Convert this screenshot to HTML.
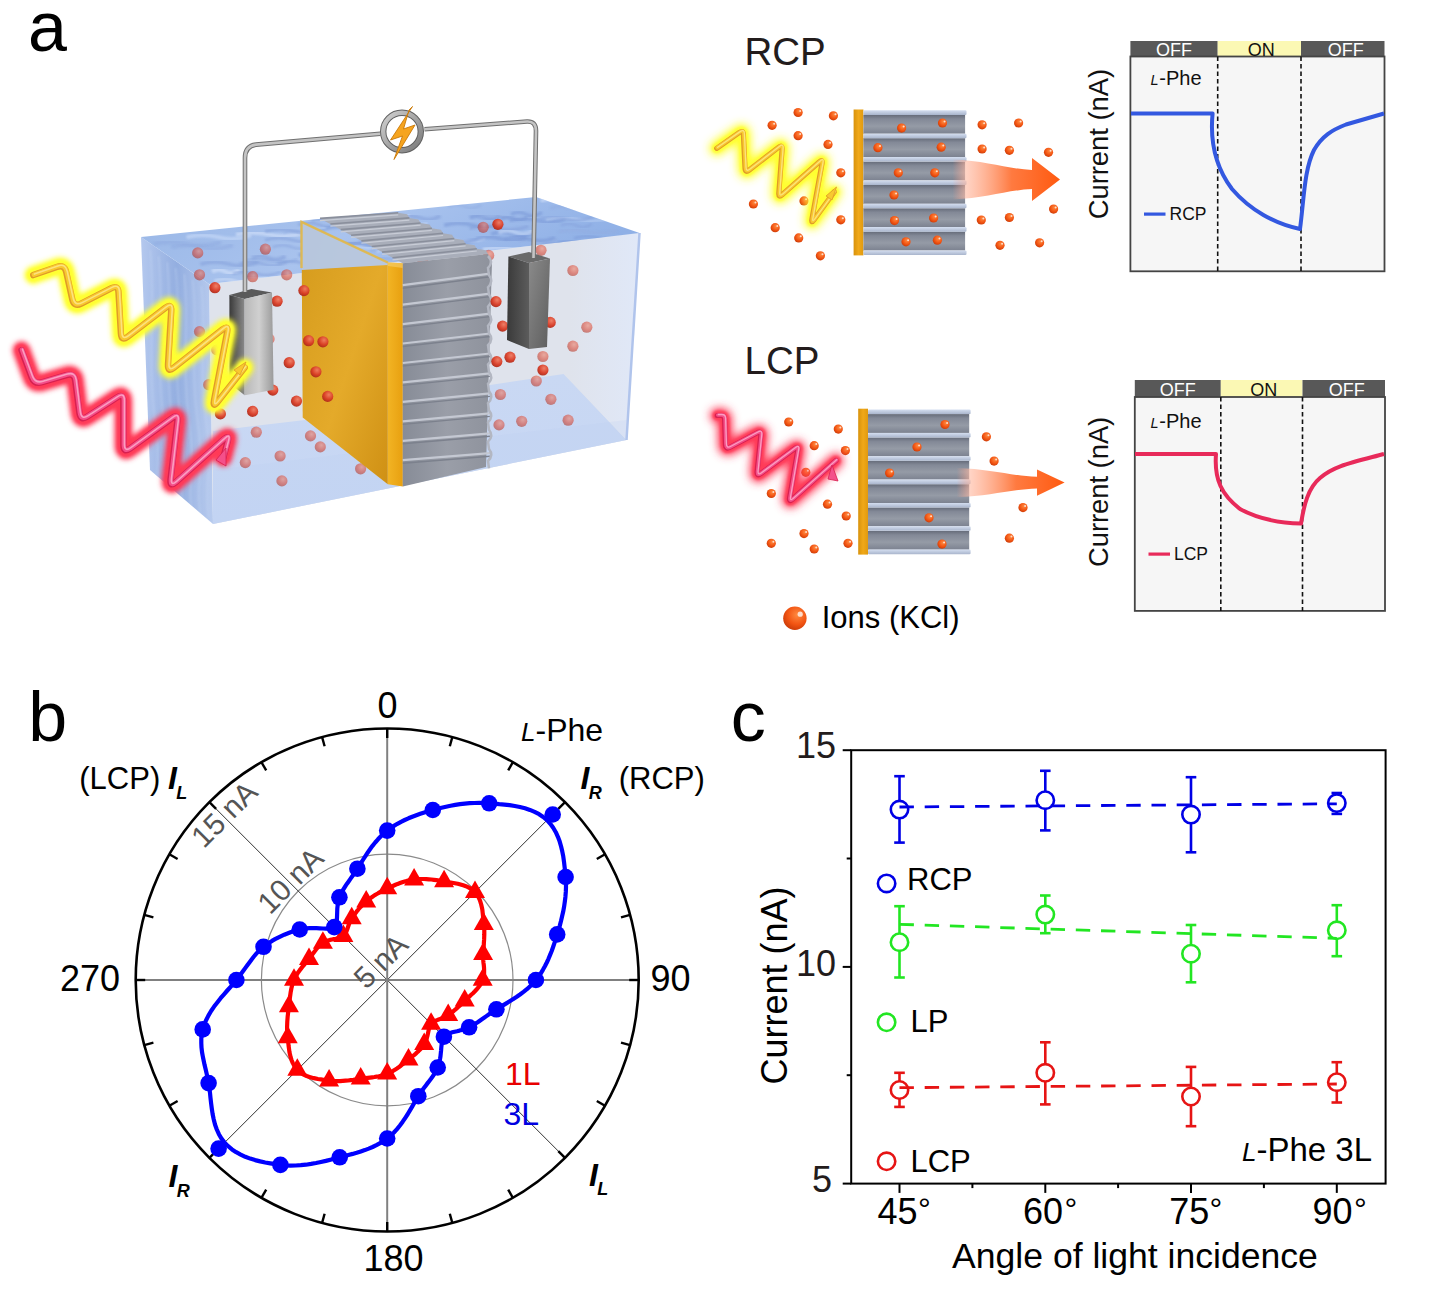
<!DOCTYPE html>
<html><head><meta charset="utf-8"><style>
html,body{margin:0;padding:0;background:#fff;}
svg{display:block;}
text{font-family:"Liberation Sans",sans-serif;}
</style></head><body>
<svg width="1448" height="1304" viewBox="0 0 1448 1304">
<defs>
<linearGradient id="goldBar" x1="0" x2="1" y1="0" y2="0"><stop offset="0" stop-color="#d8920c"/><stop offset="0.5" stop-color="#f0a818"/><stop offset="1" stop-color="#e09a10"/></linearGradient>
<linearGradient id="bandG" x1="0" x2="0" y1="0" y2="1"><stop offset="0" stop-color="#666c7a"/><stop offset="0.22" stop-color="#838997"/><stop offset="0.6" stop-color="#959ba6"/><stop offset="1" stop-color="#7c8290"/></linearGradient>
<linearGradient id="stripeG" x1="0" x2="0" y1="0" y2="1"><stop offset="0" stop-color="#d4def0"/><stop offset="1" stop-color="#a9b5cc"/></linearGradient>
<radialGradient id="ionG" cx="0.6" cy="0.35" r="0.7"><stop offset="0" stop-color="#ff8a40"/><stop offset="0.6" stop-color="#f25412"/><stop offset="1" stop-color="#c83a08"/></radialGradient>
<radialGradient id="tionG" cx="0.6" cy="0.35" r="0.7"><stop offset="0" stop-color="#f07a60"/><stop offset="0.6" stop-color="#d83a24"/><stop offset="1" stop-color="#a82818"/></radialGradient>
<linearGradient id="arrG" x1="0" x2="1" y1="0" y2="0"><stop offset="0" stop-color="#ff9a80" stop-opacity="0"/><stop offset="0.12" stop-color="#ffb8a0" stop-opacity="0.6"/><stop offset="0.55" stop-color="#ff7a40"/><stop offset="1" stop-color="#ff5a10"/></linearGradient>
<filter id="blur5" x="-30%" y="-30%" width="160%" height="160%"><feGaussianBlur stdDeviation="4"/></filter>
<filter id="blur3" x="-30%" y="-30%" width="160%" height="160%"><feGaussianBlur stdDeviation="2.5"/></filter>
<filter id="blur1" x="-10%" y="-10%" width="120%" height="120%"><feGaussianBlur stdDeviation="1"/></filter>
<linearGradient id="tankFront" x1="0" x2="0" y1="0" y2="1"><stop offset="0" stop-color="#e6e9f0"/><stop offset="1" stop-color="#dfe4ee"/></linearGradient>
<linearGradient id="rwG" x1="0" x2="1" y1="0" y2="0"><stop offset="0" stop-color="#dfe3ec"/><stop offset="0.3" stop-color="#dfe3ec"/><stop offset="1" stop-color="#e0e8f8"/></linearGradient>
<linearGradient id="floorG" x1="0" x2="0" y1="0" y2="1"><stop offset="0" stop-color="#c9d8f3"/><stop offset="1" stop-color="#c6d6f4"/></linearGradient>
<linearGradient id="leftFace" x1="0" x2="1" y1="0" y2="0"><stop offset="0" stop-color="#b4c8ee"/><stop offset="0.5" stop-color="#93aee0"/><stop offset="1" stop-color="#b8cbee"/></linearGradient>
<clipPath id="lfClip"><polygon points="141,237 209,284 213,524 150,470"/></clipPath>
<linearGradient id="topFace" x1="0" x2="1" y1="0" y2="0.3"><stop offset="0" stop-color="#98b6e6"/><stop offset="0.5" stop-color="#a9c3ee"/><stop offset="1" stop-color="#8fb0e6"/></linearGradient>
<linearGradient id="plateG" x1="0" x2="1" y1="0" y2="1"><stop offset="0" stop-color="#d49a1c"/><stop offset="0.55" stop-color="#e4aa2a"/><stop offset="1" stop-color="#cf9014"/></linearGradient>
<linearGradient id="plateEdge" x1="0" x2="1" y1="0" y2="0"><stop offset="0" stop-color="#f2b424"/><stop offset="1" stop-color="#e8a010"/></linearGradient>
<linearGradient id="stackFront" x1="0" x2="1" y1="0" y2="0"><stop offset="0" stop-color="#878c97"/><stop offset="0.5" stop-color="#9a9ea8"/><stop offset="1" stop-color="#8e929c"/></linearGradient>
<linearGradient id="elecL" x1="0" x2="1" y1="0" y2="0"><stop offset="0" stop-color="#3a3a3a"/><stop offset="1" stop-color="#8a8a8a"/></linearGradient>
<linearGradient id="elecF" x1="0" x2="1" y1="0" y2="0"><stop offset="0" stop-color="#b8b8b8"/><stop offset="0.5" stop-color="#d0d0d0"/><stop offset="1" stop-color="#9a9a9a"/></linearGradient>
<linearGradient id="elecRF" x1="0" x2="1" y1="0" y2="0"><stop offset="0" stop-color="#3a3a3a"/><stop offset="1" stop-color="#5c5c5c"/></linearGradient>
<linearGradient id="elecRF2" x1="0" x2="1" y1="0" y2="1"><stop offset="0" stop-color="#8a8a8a"/><stop offset="1" stop-color="#5e5e5e"/></linearGradient>
<linearGradient id="ringG" x1="0" x2="1" y1="0" y2="1"><stop offset="0" stop-color="#d0d0d0"/><stop offset="1" stop-color="#7a7a7a"/></linearGradient>
</defs>
<rect width="1448" height="1304" fill="#fff"/>
<text x="28" y="51.3" font-size="70" font-family="Liberation Sans, sans-serif" fill="#000">a</text>
<text x="28.2" y="740.8" font-size="70" font-family="Liberation Sans, sans-serif" fill="#000">b</text>
<text x="730.8" y="741.4" font-size="70" font-family="Liberation Sans, sans-serif" fill="#000">c</text>
<circle cx="387.2" cy="980.0" r="125.8" fill="none" stroke="#8a8a8a" stroke-width="1.2"/>
<line x1="565.0" y1="802.2" x2="209.4" y2="1157.8" stroke="#333" stroke-width="1"/>
<line x1="565.0" y1="1157.8" x2="209.4" y2="802.2" stroke="#333" stroke-width="1"/>
<line x1="135.7" y1="980.0" x2="638.7" y2="980.0" stroke="#808080" stroke-width="2"/>
<line x1="387.2" y1="728.5" x2="387.2" y2="1231.5" stroke="#808080" stroke-width="2"/>
<circle cx="387.2" cy="980.0" r="251.5" fill="none" stroke="#000" stroke-width="2.6"/>
<line x1="387.2" y1="728.5" x2="387.2" y2="738.0" stroke="#000" stroke-width="2.4"/>
<line x1="452.3" y1="737.1" x2="449.8" y2="746.2" stroke="#000" stroke-width="2.4"/>
<line x1="512.9" y1="762.2" x2="508.2" y2="770.4" stroke="#000" stroke-width="2.4"/>
<line x1="565.0" y1="802.2" x2="558.3" y2="808.9" stroke="#000" stroke-width="2.4"/>
<line x1="605.0" y1="854.2" x2="596.8" y2="859.0" stroke="#000" stroke-width="2.4"/>
<line x1="630.1" y1="914.9" x2="621.0" y2="917.4" stroke="#000" stroke-width="2.4"/>
<line x1="638.7" y1="980.0" x2="629.2" y2="980.0" stroke="#000" stroke-width="2.4"/>
<line x1="630.1" y1="1045.1" x2="621.0" y2="1042.6" stroke="#000" stroke-width="2.4"/>
<line x1="605.0" y1="1105.8" x2="596.8" y2="1101.0" stroke="#000" stroke-width="2.4"/>
<line x1="565.0" y1="1157.8" x2="558.3" y2="1151.1" stroke="#000" stroke-width="2.4"/>
<line x1="512.9" y1="1197.8" x2="508.2" y2="1189.6" stroke="#000" stroke-width="2.4"/>
<line x1="452.3" y1="1222.9" x2="449.8" y2="1213.8" stroke="#000" stroke-width="2.4"/>
<line x1="387.2" y1="1231.5" x2="387.2" y2="1222.0" stroke="#000" stroke-width="2.4"/>
<line x1="322.1" y1="1222.9" x2="324.6" y2="1213.8" stroke="#000" stroke-width="2.4"/>
<line x1="261.4" y1="1197.8" x2="266.2" y2="1189.6" stroke="#000" stroke-width="2.4"/>
<line x1="209.4" y1="1157.8" x2="216.1" y2="1151.1" stroke="#000" stroke-width="2.4"/>
<line x1="169.4" y1="1105.8" x2="177.6" y2="1101.0" stroke="#000" stroke-width="2.4"/>
<line x1="144.3" y1="1045.1" x2="153.4" y2="1042.6" stroke="#000" stroke-width="2.4"/>
<line x1="135.7" y1="980.0" x2="145.2" y2="980.0" stroke="#000" stroke-width="2.4"/>
<line x1="144.3" y1="914.9" x2="153.4" y2="917.4" stroke="#000" stroke-width="2.4"/>
<line x1="169.4" y1="854.2" x2="177.6" y2="859.0" stroke="#000" stroke-width="2.4"/>
<line x1="209.4" y1="802.2" x2="216.1" y2="808.9" stroke="#000" stroke-width="2.4"/>
<line x1="261.4" y1="762.2" x2="266.2" y2="770.4" stroke="#000" stroke-width="2.4"/>
<line x1="322.1" y1="737.1" x2="324.6" y2="746.2" stroke="#000" stroke-width="2.4"/>
<path d="M387.2,888.5 L389.2,887.5 L391.3,886.6 L393.4,885.7 L395.5,884.8 L397.7,883.9 L400.0,883.1 L402.2,882.3 L404.6,881.6 L406.9,880.9 L409.3,880.4 L411.7,879.9 L414.1,879.5 L416.6,879.3 L419.0,879.1 L421.5,879.0 L423.9,879.0 L426.4,879.1 L428.9,879.3 L431.4,879.5 L433.9,879.8 L436.5,880.1 L439.0,880.5 L441.5,881.0 L444.1,881.4 L446.7,881.9 L449.4,882.4 L452.1,882.8 L454.9,883.3 L457.7,883.8 L460.5,884.5 L463.2,885.3 L465.9,886.2 L468.4,887.4 L470.8,888.7 L473.0,890.3 L475.0,892.2 L476.7,894.3 L478.2,896.6 L479.4,899.1 L480.4,901.8 L481.2,904.5 L481.9,907.4 L482.4,910.2 L482.7,913.1 L483.0,916.0 L483.3,918.8 L483.6,921.5 L483.8,924.2 L484.1,926.8 L484.3,929.5 L484.3,932.1 L484.3,934.7 L484.2,937.3 L484.1,939.9 L483.9,942.4 L483.8,944.9 L483.6,947.3 L483.4,949.7 L483.2,952.0 L483.1,954.3 L483.1,956.5 L483.2,958.7 L483.3,960.9 L483.5,963.0 L483.8,965.1 L484.0,967.3 L484.1,969.4 L484.1,971.5 L484.1,973.7 L483.8,975.8 L483.4,977.9 L482.7,980.0 L481.8,982.1 L480.7,984.1 L479.4,986.0 L477.9,987.9 L476.3,989.8 L474.7,991.5 L473.0,993.2 L471.2,994.8 L469.5,996.4 L467.8,997.9 L466.2,999.3 L464.7,1000.8 L463.2,1002.2 L461.8,1003.5 L460.4,1004.9 L459.1,1006.2 L457.7,1007.4 L456.4,1008.6 L455.0,1009.8 L453.7,1011.0 L452.3,1012.1 L451.0,1013.2 L449.6,1014.2 L448.2,1015.2 L446.7,1016.1 L445.1,1016.9 L443.5,1017.6 L441.9,1018.3 L440.3,1018.9 L438.7,1019.5 L437.1,1020.1 L435.7,1020.7 L434.3,1021.3 L433.1,1022.1 L432.0,1022.9 L431.1,1023.9 L430.4,1025.1 L429.7,1026.4 L429.2,1027.9 L428.8,1029.6 L428.4,1031.4 L428.0,1033.2 L427.6,1035.1 L427.1,1037.0 L426.6,1038.9 L425.9,1040.8 L425.2,1042.5 L424.2,1044.2 L423.2,1045.7 L422.1,1047.1 L421.0,1048.5 L419.8,1049.8 L418.5,1051.1 L417.2,1052.3 L415.8,1053.6 L414.4,1054.8 L413.0,1055.9 L411.5,1057.1 L410.0,1058.4 L408.5,1059.6 L407.0,1060.9 L405.4,1062.1 L403.8,1063.4 L402.1,1064.7 L400.4,1066.0 L398.7,1067.3 L396.9,1068.5 L395.0,1069.7 L393.2,1070.8 L391.2,1071.9 L389.2,1072.8 L387.2,1073.7 L385.1,1074.5 L383.0,1075.1 L380.9,1075.7 L378.8,1076.2 L376.6,1076.6 L374.4,1077.0 L372.2,1077.3 L370.0,1077.6 L367.7,1077.9 L365.4,1078.2 L363.1,1078.5 L360.7,1078.8 L358.3,1079.2 L355.8,1079.5 L353.3,1079.9 L350.7,1080.2 L348.1,1080.5 L345.5,1080.7 L342.8,1080.9 L340.1,1081.1 L337.3,1081.1 L334.6,1081.0 L331.9,1080.9 L329.1,1080.5 L326.4,1080.2 L323.6,1079.8 L320.8,1079.4 L317.9,1079.0 L315.0,1078.4 L312.2,1077.8 L309.4,1076.9 L306.7,1076.0 L304.1,1074.8 L301.6,1073.4 L299.4,1071.7 L297.3,1069.9 L295.5,1067.8 L294.0,1065.4 L292.7,1062.9 L291.6,1060.2 L290.7,1057.4 L290.0,1054.6 L289.4,1051.7 L289.0,1048.8 L288.6,1045.9 L288.3,1043.0 L288.0,1040.2 L287.7,1037.5 L287.4,1034.7 L287.2,1032.0 L287.1,1029.4 L287.1,1026.7 L287.2,1024.0 L287.3,1021.4 L287.5,1018.8 L287.7,1016.2 L288.0,1013.7 L288.3,1011.2 L288.6,1008.7 L288.9,1006.3 L289.2,1004.0 L289.4,1001.7 L289.7,999.4 L290.0,997.1 L290.3,994.9 L290.6,992.7 L291.0,990.5 L291.4,988.4 L291.9,986.2 L292.5,984.1 L293.2,982.1 L294.0,980.0 L294.9,978.0 L296.0,976.0 L297.1,974.1 L298.3,972.2 L299.6,970.4 L301.0,968.6 L302.3,966.9 L303.7,965.3 L305.1,963.7 L306.4,962.1 L307.7,960.5 L309.0,959.0 L310.1,957.5 L311.3,956.1 L312.3,954.6 L313.4,953.1 L314.4,951.7 L315.5,950.3 L316.5,948.9 L317.6,947.6 L318.8,946.3 L320.1,945.1 L321.4,943.9 L322.9,942.9 L324.4,941.9 L326.2,941.1 L328.1,940.5 L330.0,939.9 L332.0,939.5 L333.9,939.1 L335.8,938.8 L337.6,938.4 L339.3,938.0 L340.8,937.5 L342.2,936.9 L343.4,936.2 L344.3,935.2 L345.1,934.1 L345.8,932.8 L346.5,931.4 L347.0,929.9 L347.6,928.4 L348.1,926.7 L348.7,925.0 L349.3,923.3 L350.0,921.7 L350.8,920.0 L351.7,918.5 L352.7,917.0 L353.7,915.6 L354.7,914.1 L355.8,912.7 L356.9,911.2 L358.1,909.8 L359.3,908.3 L360.6,906.9 L361.9,905.6 L363.3,904.2 L364.7,902.9 L366.2,901.6 L367.7,900.3 L369.3,899.1 L370.9,897.9 L372.5,896.7 L374.2,895.6 L375.9,894.5 L377.7,893.5 L379.5,892.4 L381.4,891.4 L383.3,890.4 L385.2,889.5Z" fill="none" stroke="#ff0000" stroke-width="4.2" stroke-linejoin="round"/>
<path d="M387.2,876.8 L397.2,894.3 L377.2,894.3Z" fill="#ff0000"/>
<path d="M414.1,867.9 L424.1,885.4 L404.1,885.4Z" fill="#ff0000"/>
<path d="M444.1,869.8 L454.1,887.3 L434.1,887.3Z" fill="#ff0000"/>
<path d="M475.0,880.5 L485.0,898.0 L465.0,898.0Z" fill="#ff0000"/>
<path d="M483.8,912.5 L493.8,930.0 L473.8,930.0Z" fill="#ff0000"/>
<path d="M483.1,942.6 L493.1,960.1 L473.1,960.1Z" fill="#ff0000"/>
<path d="M482.7,968.3 L492.7,985.8 L472.7,985.8Z" fill="#ff0000"/>
<path d="M464.7,989.1 L474.7,1006.6 L454.7,1006.6Z" fill="#ff0000"/>
<path d="M448.2,1003.5 L458.2,1021.0 L438.2,1021.0Z" fill="#ff0000"/>
<path d="M431.1,1012.2 L441.1,1029.7 L421.1,1029.7Z" fill="#ff0000"/>
<path d="M424.2,1032.5 L434.2,1050.0 L414.2,1050.0Z" fill="#ff0000"/>
<path d="M408.5,1047.9 L418.5,1065.4 L398.5,1065.4Z" fill="#ff0000"/>
<path d="M387.2,1062.0 L397.2,1079.5 L377.2,1079.5Z" fill="#ff0000"/>
<path d="M360.7,1067.1 L370.7,1084.6 L350.7,1084.6Z" fill="#ff0000"/>
<path d="M329.1,1068.9 L339.1,1086.4 L319.1,1086.4Z" fill="#ff0000"/>
<path d="M297.3,1058.2 L307.3,1075.7 L287.3,1075.7Z" fill="#ff0000"/>
<path d="M287.7,1025.8 L297.7,1043.3 L277.7,1043.3Z" fill="#ff0000"/>
<path d="M288.9,994.7 L298.9,1012.2 L278.9,1012.2Z" fill="#ff0000"/>
<path d="M294.0,968.3 L304.0,985.8 L284.0,985.8Z" fill="#ff0000"/>
<path d="M309.0,947.4 L319.0,964.9 L299.0,964.9Z" fill="#ff0000"/>
<path d="M322.9,931.2 L332.9,948.7 L312.9,948.7Z" fill="#ff0000"/>
<path d="M343.4,924.5 L353.4,942.0 L333.4,942.0Z" fill="#ff0000"/>
<path d="M351.7,906.8 L361.7,924.3 L341.7,924.3Z" fill="#ff0000"/>
<path d="M366.2,889.9 L376.2,907.4 L356.2,907.4Z" fill="#ff0000"/>
<path d="M387.2,830.6 L390.5,828.2 L393.9,825.9 L397.4,823.8 L401.0,821.8 L404.7,820.0 L408.5,818.3 L412.3,816.7 L416.3,815.2 L420.3,813.8 L424.3,812.5 L428.5,811.2 L432.8,810.0 L437.1,808.8 L441.5,807.7 L446.0,806.7 L450.6,805.7 L455.3,804.9 L460.0,804.2 L464.8,803.6 L469.6,803.2 L474.5,803.0 L479.4,802.9 L484.3,803.0 L489.2,803.3 L494.2,803.7 L499.2,804.2 L504.4,804.6 L509.6,805.2 L514.8,806.0 L519.9,807.0 L525.0,808.3 L529.9,809.9 L534.6,811.9 L539.1,814.2 L543.2,817.0 L547.0,820.2 L550.3,823.8 L553.2,827.8 L555.8,832.2 L557.9,836.8 L559.7,841.6 L561.1,846.5 L562.3,851.6 L563.3,856.7 L564.0,861.8 L564.6,867.0 L565.2,872.0 L565.6,877.0 L565.9,882.0 L566.0,886.9 L565.8,891.9 L565.4,896.9 L564.8,901.8 L564.1,906.7 L563.2,911.6 L562.1,916.3 L561.0,921.0 L559.8,925.6 L558.5,930.1 L557.2,934.4 L555.9,938.7 L554.5,942.9 L553.1,947.0 L551.7,951.0 L550.1,954.9 L548.5,958.8 L546.8,962.5 L544.9,966.2 L542.9,969.8 L540.8,973.3 L538.4,976.7 L535.9,980.0 L533.1,983.2 L530.1,986.2 L526.9,989.2 L523.5,991.9 L520.0,994.5 L516.4,997.0 L512.9,999.3 L509.3,1001.5 L505.9,1003.6 L502.5,1005.6 L499.4,1007.5 L496.4,1009.3 L493.7,1011.0 L491.1,1012.8 L488.7,1014.5 L486.4,1016.1 L484.1,1017.7 L481.9,1019.2 L479.8,1020.7 L477.7,1022.2 L475.6,1023.6 L473.5,1024.9 L471.3,1026.1 L469.1,1027.3 L466.8,1028.3 L464.4,1029.2 L461.9,1029.9 L459.4,1030.6 L457.0,1031.2 L454.6,1031.7 L452.3,1032.3 L450.2,1032.9 L448.3,1033.6 L446.6,1034.4 L445.1,1035.4 L443.9,1036.7 L443.0,1038.3 L442.4,1040.2 L441.9,1042.4 L441.6,1044.8 L441.3,1047.4 L441.1,1050.2 L440.8,1053.1 L440.5,1056.1 L440.0,1059.1 L439.4,1062.0 L438.7,1064.8 L437.7,1067.5 L436.5,1070.0 L435.3,1072.3 L433.9,1074.6 L432.4,1076.8 L430.8,1079.0 L429.1,1081.2 L427.4,1083.4 L425.7,1085.7 L423.9,1088.1 L422.1,1090.6 L420.2,1093.3 L418.3,1096.2 L416.4,1099.3 L414.4,1102.7 L412.3,1106.4 L410.1,1110.1 L407.8,1114.0 L405.3,1117.8 L402.7,1121.7 L399.9,1125.5 L397.0,1129.1 L393.9,1132.5 L390.6,1135.7 L387.2,1138.5 L383.7,1141.0 L380.1,1143.2 L376.4,1145.2 L372.6,1147.0 L368.7,1148.6 L364.8,1150.1 L360.8,1151.4 L356.7,1152.7 L352.6,1153.9 L348.4,1155.0 L344.1,1156.2 L339.7,1157.3 L335.2,1158.5 L330.5,1159.7 L325.8,1160.9 L320.9,1162.0 L316.0,1163.0 L311.0,1163.9 L305.9,1164.7 L300.8,1165.2 L295.7,1165.5 L290.6,1165.6 L285.5,1165.4 L280.4,1164.9 L275.4,1164.2 L270.3,1163.4 L265.2,1162.5 L260.2,1161.4 L255.1,1160.1 L250.2,1158.6 L245.3,1156.8 L240.7,1154.6 L236.2,1152.2 L232.0,1149.4 L228.1,1146.2 L224.6,1142.6 L221.5,1138.6 L218.9,1134.2 L216.8,1129.5 L215.0,1124.5 L213.7,1119.3 L212.6,1114.0 L211.8,1108.6 L211.1,1103.3 L210.5,1098.1 L210.0,1092.9 L209.4,1087.9 L208.6,1083.1 L207.7,1078.5 L206.7,1073.9 L205.7,1069.5 L204.6,1065.1 L203.7,1060.8 L202.8,1056.4 L202.0,1052.0 L201.5,1047.6 L201.3,1043.1 L201.3,1038.6 L201.8,1034.0 L202.7,1029.4 L204.1,1024.8 L206.1,1020.2 L208.4,1015.6 L211.1,1011.0 L214.1,1006.6 L217.3,1002.4 L220.6,998.2 L224.0,994.3 L227.3,990.5 L230.6,986.8 L233.6,983.4 L236.4,980.0 L238.9,976.8 L241.3,973.6 L243.5,970.6 L245.6,967.6 L247.7,964.7 L249.8,961.9 L251.8,959.2 L253.9,956.5 L256.1,953.9 L258.4,951.4 L260.8,949.1 L263.5,946.8 L266.2,944.7 L269.1,942.8 L272.0,940.9 L275.0,939.2 L278.1,937.6 L281.2,936.1 L284.3,934.7 L287.4,933.5 L290.5,932.3 L293.6,931.3 L296.7,930.3 L299.7,929.5 L302.9,928.8 L306.2,928.4 L309.6,928.2 L313.1,928.1 L316.5,928.2 L319.8,928.3 L323.0,928.5 L325.9,928.6 L328.5,928.6 L330.8,928.4 L332.8,927.9 L334.3,927.1 L335.4,925.9 L336.2,924.3 L336.6,922.3 L336.9,920.0 L337.0,917.5 L337.1,914.7 L337.2,911.8 L337.3,908.8 L337.6,905.8 L338.0,902.8 L338.6,899.9 L339.4,897.3 L340.5,894.8 L341.6,892.5 L342.9,890.2 L344.3,887.9 L345.7,885.7 L347.2,883.4 L348.8,881.2 L350.4,878.9 L352.1,876.5 L353.8,874.1 L355.6,871.5 L357.4,868.7 L359.3,865.8 L361.2,862.7 L363.2,859.5 L365.4,856.1 L367.6,852.7 L370.0,849.3 L372.5,845.8 L375.2,842.5 L378.0,839.3 L380.9,836.2 L384.0,833.3Z" fill="none" stroke="#0000ff" stroke-width="4.2" stroke-linejoin="round"/>
<circle cx="387.2" cy="830.6" r="8.3" fill="#0000ff"/>
<circle cx="432.8" cy="810.0" r="8.3" fill="#0000ff"/>
<circle cx="489.2" cy="803.3" r="8.3" fill="#0000ff"/>
<circle cx="552.7" cy="814.5" r="8.3" fill="#0000ff"/>
<circle cx="565.6" cy="877.0" r="8.3" fill="#0000ff"/>
<circle cx="557.2" cy="934.4" r="8.3" fill="#0000ff"/>
<circle cx="535.9" cy="980.0" r="8.3" fill="#0000ff"/>
<circle cx="496.4" cy="1009.3" r="8.3" fill="#0000ff"/>
<circle cx="469.1" cy="1027.3" r="8.3" fill="#0000ff"/>
<circle cx="443.9" cy="1036.7" r="8.3" fill="#0000ff"/>
<circle cx="437.7" cy="1067.5" r="8.3" fill="#0000ff"/>
<circle cx="418.3" cy="1096.2" r="8.3" fill="#0000ff"/>
<circle cx="387.2" cy="1138.5" r="8.3" fill="#0000ff"/>
<circle cx="339.7" cy="1157.3" r="8.3" fill="#0000ff"/>
<circle cx="280.4" cy="1164.9" r="8.3" fill="#0000ff"/>
<circle cx="218.6" cy="1148.6" r="8.3" fill="#0000ff"/>
<circle cx="208.6" cy="1083.1" r="8.3" fill="#0000ff"/>
<circle cx="202.7" cy="1029.4" r="8.3" fill="#0000ff"/>
<circle cx="236.4" cy="980.0" r="8.3" fill="#0000ff"/>
<circle cx="263.5" cy="946.8" r="8.3" fill="#0000ff"/>
<circle cx="299.7" cy="929.5" r="8.3" fill="#0000ff"/>
<circle cx="334.3" cy="927.1" r="8.3" fill="#0000ff"/>
<circle cx="339.4" cy="897.3" r="8.3" fill="#0000ff"/>
<circle cx="357.4" cy="868.7" r="8.3" fill="#0000ff"/>
<text x="387.6" y="718.4" font-size="36" font-family="Liberation Sans, sans-serif" text-anchor="middle">0</text>
<text x="60" y="990.6" font-size="36" font-family="Liberation Sans, sans-serif">270</text>
<text x="650.5" y="990.6" font-size="36" font-family="Liberation Sans, sans-serif">90</text>
<text x="363.4" y="1271" font-size="36" font-family="Liberation Sans, sans-serif">180</text>
<text x="521" y="741" font-size="32" font-family="Liberation Sans, sans-serif"><tspan font-style="italic" font-size="26">L</tspan>-Phe</text>
<text x="79.3" y="789" font-size="31" font-family="Liberation Sans, sans-serif">(LCP)</text>
<text x="618.7" y="789" font-size="31" font-family="Liberation Sans, sans-serif">(RCP)</text>
<text x="168.1" y="789" font-size="32" font-family="Liberation Sans, sans-serif" font-weight="bold" font-style="italic">I</text><text x="176.2" y="798.6" font-size="18" font-family="Liberation Sans, sans-serif" font-weight="bold" font-style="italic">L</text>
<text x="580.6" y="789" font-size="32" font-family="Liberation Sans, sans-serif" font-weight="bold" font-style="italic">I</text><text x="588.7" y="798.6" font-size="18" font-family="Liberation Sans, sans-serif" font-weight="bold" font-style="italic">R</text>
<text x="168.6" y="1187" font-size="32" font-family="Liberation Sans, sans-serif" font-weight="bold" font-style="italic">I</text><text x="176.7" y="1196.6" font-size="18" font-family="Liberation Sans, sans-serif" font-weight="bold" font-style="italic">R</text>
<text x="589.1" y="1185.6" font-size="32" font-family="Liberation Sans, sans-serif" font-weight="bold" font-style="italic">I</text><text x="597.2" y="1195.1999999999998" font-size="18" font-family="Liberation Sans, sans-serif" font-weight="bold" font-style="italic">L</text>
<text x="505" y="1085" font-size="32" font-family="Liberation Sans, sans-serif" fill="#e80000">1L</text>
<text x="503.5" y="1124.6" font-size="32" font-family="Liberation Sans, sans-serif" fill="#0000e0">3L</text>
<text x="231.6" y="821.6" font-size="30" font-family="Liberation Sans, sans-serif" fill="#555" text-anchor="middle" transform="rotate(-45 231.6 821.6)">15 nA</text>
<text x="297.8" y="887.7" font-size="30" font-family="Liberation Sans, sans-serif" fill="#555" text-anchor="middle" transform="rotate(-45 297.8 887.7)">10 nA</text>
<text x="388.0" y="968.5" font-size="30" font-family="Liberation Sans, sans-serif" fill="#555" text-anchor="middle" transform="rotate(-45 388.0 968.5)">5 nA</text>
<rect x="851.2" y="750.2" width="534.3999999999999" height="433.39999999999986" fill="none" stroke="#000" stroke-width="2"/>
<line x1="842.7" y1="1183.6" x2="851.2" y2="1183.6" stroke="#000" stroke-width="2"/>
<line x1="842.7" y1="966.9" x2="851.2" y2="966.9" stroke="#000" stroke-width="2"/>
<line x1="842.7" y1="750.2" x2="851.2" y2="750.2" stroke="#000" stroke-width="2"/>
<line x1="846.7" y1="1075.2" x2="851.2" y2="1075.2" stroke="#000" stroke-width="2"/>
<line x1="846.7" y1="858.5" x2="851.2" y2="858.5" stroke="#000" stroke-width="2"/>
<line x1="899.5" y1="1183.6" x2="899.5" y2="1192.8999999999999" stroke="#000" stroke-width="2"/>
<line x1="1045.3" y1="1183.6" x2="1045.3" y2="1192.8999999999999" stroke="#000" stroke-width="2"/>
<line x1="1191.0" y1="1183.6" x2="1191.0" y2="1192.8999999999999" stroke="#000" stroke-width="2"/>
<line x1="1336.8" y1="1183.6" x2="1336.8" y2="1192.8999999999999" stroke="#000" stroke-width="2"/>
<line x1="972.4" y1="1183.6" x2="972.4" y2="1188.1" stroke="#000" stroke-width="2"/>
<line x1="1118.1" y1="1183.6" x2="1118.1" y2="1188.1" stroke="#000" stroke-width="2"/>
<line x1="1263.9" y1="1183.6" x2="1263.9" y2="1188.1" stroke="#000" stroke-width="2"/>
<line x1="899.5" y1="776.2" x2="899.5" y2="800.9" stroke="#0000e6" stroke-width="2.6"/>
<line x1="899.5" y1="818.3" x2="899.5" y2="842.6" stroke="#0000e6" stroke-width="2.6"/>
<line x1="894.2" y1="776.2" x2="904.8" y2="776.2" stroke="#0000e6" stroke-width="2.6"/>
<line x1="894.2" y1="842.6" x2="904.8" y2="842.6" stroke="#0000e6" stroke-width="2.6"/>
<circle cx="899.5" cy="809.6" r="8.7" fill="none" stroke="#0000e6" stroke-width="2.6"/>
<line x1="1045.3" y1="770.8" x2="1045.3" y2="791.5" stroke="#0000e6" stroke-width="2.6"/>
<line x1="1045.3" y1="808.9" x2="1045.3" y2="830.4" stroke="#0000e6" stroke-width="2.6"/>
<line x1="1040.0" y1="770.8" x2="1050.6" y2="770.8" stroke="#0000e6" stroke-width="2.6"/>
<line x1="1040.0" y1="830.4" x2="1050.6" y2="830.4" stroke="#0000e6" stroke-width="2.6"/>
<circle cx="1045.3" cy="800.2" r="8.7" fill="none" stroke="#0000e6" stroke-width="2.6"/>
<line x1="1191.0" y1="777.2" x2="1191.0" y2="805.9" stroke="#0000e6" stroke-width="2.6"/>
<line x1="1191.0" y1="823.3" x2="1191.0" y2="852.3" stroke="#0000e6" stroke-width="2.6"/>
<line x1="1185.7" y1="777.2" x2="1196.3" y2="777.2" stroke="#0000e6" stroke-width="2.6"/>
<line x1="1185.7" y1="852.3" x2="1196.3" y2="852.3" stroke="#0000e6" stroke-width="2.6"/>
<circle cx="1191.0" cy="814.6" r="8.7" fill="none" stroke="#0000e6" stroke-width="2.6"/>
<line x1="1336.8" y1="793" x2="1336.8" y2="794.4" stroke="#0000e6" stroke-width="2.6"/>
<line x1="1336.8" y1="811.8" x2="1336.8" y2="813.9" stroke="#0000e6" stroke-width="2.6"/>
<line x1="1331.5" y1="793" x2="1342.1" y2="793" stroke="#0000e6" stroke-width="2.6"/>
<line x1="1331.5" y1="813.9" x2="1342.1" y2="813.9" stroke="#0000e6" stroke-width="2.6"/>
<circle cx="1336.8" cy="803.1" r="8.7" fill="none" stroke="#0000e6" stroke-width="2.6"/>
<line x1="899.5" y1="807" x2="1336.8" y2="803.8" stroke="#0000e6" stroke-width="2.8" stroke-dasharray="14.4 10.8"/>
<line x1="899.5" y1="906.2" x2="899.5" y2="933.5" stroke="#22e622" stroke-width="2.6"/>
<line x1="899.5" y1="950.9" x2="899.5" y2="977.5" stroke="#22e622" stroke-width="2.6"/>
<line x1="894.2" y1="906.2" x2="904.8" y2="906.2" stroke="#22e622" stroke-width="2.6"/>
<line x1="894.2" y1="977.5" x2="904.8" y2="977.5" stroke="#22e622" stroke-width="2.6"/>
<circle cx="899.5" cy="942.2" r="8.7" fill="none" stroke="#22e622" stroke-width="2.6"/>
<line x1="1045.3" y1="895.5" x2="1045.3" y2="905.9" stroke="#22e622" stroke-width="2.6"/>
<line x1="1045.3" y1="923.3" x2="1045.3" y2="933.2" stroke="#22e622" stroke-width="2.6"/>
<line x1="1040.0" y1="895.5" x2="1050.6" y2="895.5" stroke="#22e622" stroke-width="2.6"/>
<line x1="1040.0" y1="933.2" x2="1050.6" y2="933.2" stroke="#22e622" stroke-width="2.6"/>
<circle cx="1045.3" cy="914.6" r="8.7" fill="none" stroke="#22e622" stroke-width="2.6"/>
<line x1="1191.0" y1="925" x2="1191.0" y2="945.0" stroke="#22e622" stroke-width="2.6"/>
<line x1="1191.0" y1="962.4" x2="1191.0" y2="982.3" stroke="#22e622" stroke-width="2.6"/>
<line x1="1185.7" y1="925" x2="1196.3" y2="925" stroke="#22e622" stroke-width="2.6"/>
<line x1="1185.7" y1="982.3" x2="1196.3" y2="982.3" stroke="#22e622" stroke-width="2.6"/>
<circle cx="1191.0" cy="953.7" r="8.7" fill="none" stroke="#22e622" stroke-width="2.6"/>
<line x1="1336.8" y1="905.2" x2="1336.8" y2="921.6" stroke="#22e622" stroke-width="2.6"/>
<line x1="1336.8" y1="939.0" x2="1336.8" y2="956.2" stroke="#22e622" stroke-width="2.6"/>
<line x1="1331.5" y1="905.2" x2="1342.1" y2="905.2" stroke="#22e622" stroke-width="2.6"/>
<line x1="1331.5" y1="956.2" x2="1342.1" y2="956.2" stroke="#22e622" stroke-width="2.6"/>
<circle cx="1336.8" cy="930.3" r="8.7" fill="none" stroke="#22e622" stroke-width="2.6"/>
<line x1="899.5" y1="924.3" x2="1336.8" y2="938.3" stroke="#22e622" stroke-width="2.8" stroke-dasharray="14.4 10.8"/>
<line x1="899.5" y1="1072.8" x2="899.5" y2="1081.3" stroke="#e61414" stroke-width="2.6"/>
<line x1="899.5" y1="1098.7" x2="899.5" y2="1106.9" stroke="#e61414" stroke-width="2.6"/>
<line x1="894.2" y1="1072.8" x2="904.8" y2="1072.8" stroke="#e61414" stroke-width="2.6"/>
<line x1="894.2" y1="1106.9" x2="904.8" y2="1106.9" stroke="#e61414" stroke-width="2.6"/>
<circle cx="899.5" cy="1090.0" r="8.7" fill="none" stroke="#e61414" stroke-width="2.6"/>
<line x1="1045.3" y1="1042.3" x2="1045.3" y2="1064.1" stroke="#e61414" stroke-width="2.6"/>
<line x1="1045.3" y1="1081.5" x2="1045.3" y2="1104.4" stroke="#e61414" stroke-width="2.6"/>
<line x1="1040.0" y1="1042.3" x2="1050.6" y2="1042.3" stroke="#e61414" stroke-width="2.6"/>
<line x1="1040.0" y1="1104.4" x2="1050.6" y2="1104.4" stroke="#e61414" stroke-width="2.6"/>
<circle cx="1045.3" cy="1072.8" r="8.7" fill="none" stroke="#e61414" stroke-width="2.6"/>
<line x1="1191.0" y1="1066.9" x2="1191.0" y2="1087.8" stroke="#e61414" stroke-width="2.6"/>
<line x1="1191.0" y1="1105.2" x2="1191.0" y2="1126.2" stroke="#e61414" stroke-width="2.6"/>
<line x1="1185.7" y1="1066.9" x2="1196.3" y2="1066.9" stroke="#e61414" stroke-width="2.6"/>
<line x1="1185.7" y1="1126.2" x2="1196.3" y2="1126.2" stroke="#e61414" stroke-width="2.6"/>
<circle cx="1191.0" cy="1096.5" r="8.7" fill="none" stroke="#e61414" stroke-width="2.6"/>
<line x1="1336.8" y1="1062.2" x2="1336.8" y2="1073.5" stroke="#e61414" stroke-width="2.6"/>
<line x1="1336.8" y1="1090.9" x2="1336.8" y2="1102.5" stroke="#e61414" stroke-width="2.6"/>
<line x1="1331.5" y1="1062.2" x2="1342.1" y2="1062.2" stroke="#e61414" stroke-width="2.6"/>
<line x1="1331.5" y1="1102.5" x2="1342.1" y2="1102.5" stroke="#e61414" stroke-width="2.6"/>
<circle cx="1336.8" cy="1082.2" r="8.7" fill="none" stroke="#e61414" stroke-width="2.6"/>
<line x1="899.5" y1="1087.7" x2="1336.8" y2="1084" stroke="#e61414" stroke-width="2.8" stroke-dasharray="14.4 10.8"/>
<circle cx="886.6" cy="883.4" r="8.7" fill="none" stroke="#0000e6" stroke-width="2.6"/>
<text x="907.1" y="889.6" font-size="31" font-family="Liberation Sans, sans-serif">RCP</text>
<circle cx="886.6" cy="1022.3" r="8.7" fill="none" stroke="#22e622" stroke-width="2.6"/>
<text x="910.4" y="1031.9" font-size="31" font-family="Liberation Sans, sans-serif">LP</text>
<circle cx="886.6" cy="1161.3" r="8.7" fill="none" stroke="#e61414" stroke-width="2.6"/>
<text x="910.4" y="1171.9" font-size="31" font-family="Liberation Sans, sans-serif">LCP</text>
<text x="836" y="757.5" font-size="36" font-family="Liberation Sans, sans-serif" fill="#231c1c" text-anchor="end">15</text>
<text x="836" y="976.2" font-size="36" font-family="Liberation Sans, sans-serif" fill="#231c1c" text-anchor="end">10</text>
<text x="832" y="1192.2" font-size="36" font-family="Liberation Sans, sans-serif" fill="#231c1c" text-anchor="end">5</text>
<text x="877.4" y="1223.8" font-size="36" font-family="Liberation Sans, sans-serif">45</text>
<text x="917.9" y="1220" font-size="32" font-family="Liberation Sans, sans-serif">°</text>
<text x="1023.1" y="1223.8" font-size="36" font-family="Liberation Sans, sans-serif">60</text>
<text x="1064.5" y="1220" font-size="32" font-family="Liberation Sans, sans-serif">°</text>
<text x="1169.2" y="1223.8" font-size="36" font-family="Liberation Sans, sans-serif">75</text>
<text x="1209.5" y="1220" font-size="32" font-family="Liberation Sans, sans-serif">°</text>
<text x="1312.5" y="1223.8" font-size="36" font-family="Liberation Sans, sans-serif">90</text>
<text x="1354" y="1220" font-size="32" font-family="Liberation Sans, sans-serif">°</text>
<text x="952" y="1268" font-size="35.6" font-family="Liberation Sans, sans-serif">Angle of light incidence</text>
<text x="0" y="0" font-size="36" font-family="Liberation Sans, sans-serif" transform="translate(786.7 1084.5) rotate(-90)">Current (nA)</text>
<text x="1242" y="1160.9" font-size="33" font-family="Liberation Sans, sans-serif"><tspan font-style="italic" font-size="26">L</tspan>-Phe 3L</text>
<polygon points="209.0,284.0 639.5,233.0 626.5,440.0 213.0,524.0" fill="#dfe3ec"/>
<polygon points="213.0,431.0 305.0,420.0 490.0,385.0 563.6,374.0 626.5,440.0 213.0,524.0" fill="url(#floorG)"/>
<polygon points="540.0,240.0 639.5,233.0 626.5,440.0 563.6,373.3 540.0,376.0" fill="url(#rwG)"/>
<polyline points="639.5,233.0 626.5,440.0" fill="none" stroke="#b0c4ec" stroke-width="2.5"/>
<polygon points="213.0,470.0 626.5,420.0 626.5,440.0 213.0,524.0" fill="#b8ccef" opacity="0.2"/>
<polygon points="141.0,237.0 209.0,284.0 213.0,524.0 150.0,470.0" fill="url(#leftFace)"/>
<g clip-path="url(#lfClip)">
<path d="M150.0,250 C156.0,300 147.0,360 155.0,420 S152.0,480 158.0,500" fill="none" stroke="#c4d6f4" stroke-width="2.6" opacity="0.3" filter="url(#blur1)"/>
<path d="M158.5,256 C164.5,304 155.5,360 163.5,420 S160.5,480 166.5,503" fill="none" stroke="#c4d6f4" stroke-width="2.6" opacity="0.3" filter="url(#blur1)"/>
<path d="M167.0,262 C173.0,308 164.0,360 172.0,420 S169.0,480 175.0,506" fill="none" stroke="#c4d6f4" stroke-width="2.6" opacity="0.3" filter="url(#blur1)"/>
<path d="M175.5,268 C181.5,312 172.5,360 180.5,420 S177.5,480 183.5,509" fill="none" stroke="#c4d6f4" stroke-width="2.6" opacity="0.3" filter="url(#blur1)"/>
<path d="M184.0,274 C190.0,316 181.0,360 189.0,420 S186.0,480 192.0,512" fill="none" stroke="#c4d6f4" stroke-width="2.6" opacity="0.3" filter="url(#blur1)"/>
<path d="M192.5,280 C198.5,320 189.5,360 197.5,420 S194.5,480 200.5,515" fill="none" stroke="#c4d6f4" stroke-width="2.6" opacity="0.3" filter="url(#blur1)"/>
<path d="M201.0,286 C207.0,324 198.0,360 206.0,420 S203.0,480 209.0,518" fill="none" stroke="#c4d6f4" stroke-width="2.6" opacity="0.3" filter="url(#blur1)"/>
</g>
<polygon points="141.0,237.0 536.0,197.0 639.5,233.0 209.0,284.0" fill="url(#topFace)"/>
<clipPath id="topClip"><polygon points="141,237 536,197 639.5,233 209,284"/></clipPath><g clip-path="url(#topClip)">
<path d="M372.2,226.4 q10.4,-4 20.8,0 t20.8,-2" fill="none" stroke="#93aee2" stroke-width="3.2" opacity="0.65" filter="url(#blur1)"/>
<path d="M419.7,240.1 q16.5,-4 32.9,0 t32.9,-2" fill="none" stroke="#d4e2fa" stroke-width="2.6" opacity="0.65" filter="url(#blur1)"/>
<path d="M550.2,208.2 q11.5,-4 23.1,0 t23.1,-2" fill="none" stroke="#93aee2" stroke-width="3.2" opacity="0.65" filter="url(#blur1)"/>
<path d="M244.0,261.0 q13.4,-4 26.8,0 t26.8,-2" fill="none" stroke="#93aee2" stroke-width="3.0" opacity="0.65" filter="url(#blur1)"/>
<path d="M449.0,206.6 q8.0,-4 16.1,0 t16.1,-2" fill="none" stroke="#93aee2" stroke-width="2.1" opacity="0.65" filter="url(#blur1)"/>
<path d="M519.4,240.7 q9.3,-4 18.6,0 t18.6,-2" fill="none" stroke="#93aee2" stroke-width="3.8" opacity="0.65" filter="url(#blur1)"/>
<path d="M482.8,249.7 q16.6,-4 33.2,0 t33.2,-2" fill="none" stroke="#d4e2fa" stroke-width="3.8" opacity="0.65" filter="url(#blur1)"/>
<path d="M561.0,225.6 q7.8,-4 15.5,0 t15.5,-2" fill="none" stroke="#86a2dc" stroke-width="2.2" opacity="0.65" filter="url(#blur1)"/>
<path d="M236.0,234.7 q17.1,-4 34.2,0 t34.2,-2" fill="none" stroke="#d4e2fa" stroke-width="3.9" opacity="0.65" filter="url(#blur1)"/>
<path d="M365.5,260.3 q15.6,-4 31.3,0 t31.3,-2" fill="none" stroke="#93aee2" stroke-width="2.9" opacity="0.65" filter="url(#blur1)"/>
<path d="M411.6,241.1 q16.4,-4 32.8,0 t32.8,-2" fill="none" stroke="#7c9ad8" stroke-width="4.1" opacity="0.65" filter="url(#blur1)"/>
<path d="M473.5,256.7 q8.1,-4 16.2,0 t16.2,-2" fill="none" stroke="#86a2dc" stroke-width="4.4" opacity="0.65" filter="url(#blur1)"/>
<path d="M427.3,256.8 q14.3,-4 28.6,0 t28.6,-2" fill="none" stroke="#c8daf8" stroke-width="3.6" opacity="0.65" filter="url(#blur1)"/>
<path d="M313.7,272.8 q7.6,-4 15.3,0 t15.3,-2" fill="none" stroke="#d4e2fa" stroke-width="4.1" opacity="0.65" filter="url(#blur1)"/>
<path d="M243.3,280.0 q15.3,-4 30.5,0 t30.5,-2" fill="none" stroke="#d4e2fa" stroke-width="4.2" opacity="0.65" filter="url(#blur1)"/>
<path d="M311.1,220.9 q10.9,-4 21.8,0 t21.8,-2" fill="none" stroke="#7c9ad8" stroke-width="2.1" opacity="0.65" filter="url(#blur1)"/>
<path d="M200.5,264.1 q14.3,-4 28.7,0 t28.7,-2" fill="none" stroke="#86a2dc" stroke-width="3.4" opacity="0.65" filter="url(#blur1)"/>
<path d="M313.9,269.2 q8.9,-4 17.8,0 t17.8,-2" fill="none" stroke="#7c9ad8" stroke-width="2.8" opacity="0.65" filter="url(#blur1)"/>
<path d="M383.1,216.6 q6.6,-4 13.2,0 t13.2,-2" fill="none" stroke="#c8daf8" stroke-width="4.4" opacity="0.65" filter="url(#blur1)"/>
<path d="M264.9,240.2 q14.0,-4 28.0,0 t28.0,-2" fill="none" stroke="#86a2dc" stroke-width="2.8" opacity="0.65" filter="url(#blur1)"/>
<path d="M560.4,246.2 q10.5,-4 21.0,0 t21.0,-2" fill="none" stroke="#d4e2fa" stroke-width="4.2" opacity="0.65" filter="url(#blur1)"/>
<path d="M509.7,220.5 q13.9,-4 27.8,0 t27.8,-2" fill="none" stroke="#7c9ad8" stroke-width="3.6" opacity="0.65" filter="url(#blur1)"/>
<path d="M405.2,260.9 q11.1,-4 22.2,0 t22.2,-2" fill="none" stroke="#c8daf8" stroke-width="4.3" opacity="0.65" filter="url(#blur1)"/>
<path d="M272.7,247.2 q9.7,-4 19.3,0 t19.3,-2" fill="none" stroke="#86a2dc" stroke-width="2.0" opacity="0.65" filter="url(#blur1)"/>
<path d="M398.3,233.3 q6.5,-4 13.0,0 t13.0,-2" fill="none" stroke="#93aee2" stroke-width="3.5" opacity="0.65" filter="url(#blur1)"/>
<path d="M400.3,217.9 q10.0,-4 20.0,0 t20.0,-2" fill="none" stroke="#86a2dc" stroke-width="3.7" opacity="0.65" filter="url(#blur1)"/>
<path d="M444.2,225.3 q14.6,-4 29.1,0 t29.1,-2" fill="none" stroke="#7c9ad8" stroke-width="3.5" opacity="0.65" filter="url(#blur1)"/>
<path d="M214.3,281.0 q10.4,-4 20.8,0 t20.8,-2" fill="none" stroke="#d4e2fa" stroke-width="2.7" opacity="0.65" filter="url(#blur1)"/>
<path d="M252.0,258.2 q8.3,-4 16.7,0 t16.7,-2" fill="none" stroke="#86a2dc" stroke-width="4.1" opacity="0.65" filter="url(#blur1)"/>
<path d="M469.9,217.9 q7.4,-4 14.9,0 t14.9,-2" fill="none" stroke="#7c9ad8" stroke-width="4.4" opacity="0.65" filter="url(#blur1)"/>
<path d="M239.4,263.9 q11.9,-4 23.8,0 t23.8,-2" fill="none" stroke="#86a2dc" stroke-width="2.6" opacity="0.65" filter="url(#blur1)"/>
<path d="M325.7,228.4 q14.1,-4 28.2,0 t28.2,-2" fill="none" stroke="#7c9ad8" stroke-width="3.5" opacity="0.65" filter="url(#blur1)"/>
<path d="M472.1,254.6 q8.8,-4 17.6,0 t17.6,-2" fill="none" stroke="#c8daf8" stroke-width="2.2" opacity="0.65" filter="url(#blur1)"/>
<path d="M277.6,263.2 q12.6,-4 25.3,0 t25.3,-2" fill="none" stroke="#86a2dc" stroke-width="2.6" opacity="0.65" filter="url(#blur1)"/>
<path d="M358.4,221.5 q8.4,-4 16.8,0 t16.8,-2" fill="none" stroke="#93aee2" stroke-width="2.5" opacity="0.65" filter="url(#blur1)"/>
<path d="M478.8,217.8 q13.5,-4 26.9,0 t26.9,-2" fill="none" stroke="#93aee2" stroke-width="2.9" opacity="0.65" filter="url(#blur1)"/>
<path d="M265.1,231.4 q15.2,-4 30.4,0 t30.4,-2" fill="none" stroke="#86a2dc" stroke-width="3.2" opacity="0.65" filter="url(#blur1)"/>
<path d="M298.8,255.2 q12.6,-4 25.3,0 t25.3,-2" fill="none" stroke="#7c9ad8" stroke-width="4.3" opacity="0.65" filter="url(#blur1)"/>
<path d="M153.4,244.1 q16.9,-4 33.7,0 t33.7,-2" fill="none" stroke="#93aee2" stroke-width="4.5" opacity="0.65" filter="url(#blur1)"/>
<path d="M545.8,219.4 q16.7,-4 33.4,0 t33.4,-2" fill="none" stroke="#c8daf8" stroke-width="2.1" opacity="0.65" filter="url(#blur1)"/>
<path d="M469.6,228.3 q14.7,-4 29.3,0 t29.3,-2" fill="none" stroke="#86a2dc" stroke-width="3.4" opacity="0.65" filter="url(#blur1)"/>
<path d="M541.8,244.4 q15.9,-4 31.8,0 t31.8,-2" fill="none" stroke="#86a2dc" stroke-width="2.3" opacity="0.65" filter="url(#blur1)"/>
<path d="M171.5,247.1 q15.3,-4 30.6,0 t30.6,-2" fill="none" stroke="#93aee2" stroke-width="4.3" opacity="0.65" filter="url(#blur1)"/>
<path d="M557.3,243.2 q12.7,-4 25.5,0 t25.5,-2" fill="none" stroke="#7c9ad8" stroke-width="3.2" opacity="0.65" filter="url(#blur1)"/>
<path d="M348.0,222.6 q8.9,-4 17.9,0 t17.9,-2" fill="none" stroke="#7c9ad8" stroke-width="3.3" opacity="0.65" filter="url(#blur1)"/>
<path d="M540.1,218.9 q13.1,-4 26.3,0 t26.3,-2" fill="none" stroke="#86a2dc" stroke-width="2.3" opacity="0.65" filter="url(#blur1)"/>
<path d="M420.8,261.0 q15.4,-4 30.8,0 t30.8,-2" fill="none" stroke="#7c9ad8" stroke-width="2.9" opacity="0.65" filter="url(#blur1)"/>
<path d="M365.6,224.9 q15.4,-4 30.9,0 t30.9,-2" fill="none" stroke="#c8daf8" stroke-width="2.6" opacity="0.65" filter="url(#blur1)"/>
<path d="M511.0,214.3 q7.7,-4 15.4,0 t15.4,-2" fill="none" stroke="#7c9ad8" stroke-width="3.2" opacity="0.65" filter="url(#blur1)"/>
<path d="M337.9,247.8 q14.8,-4 29.5,0 t29.5,-2" fill="none" stroke="#c8daf8" stroke-width="2.7" opacity="0.65" filter="url(#blur1)"/>
<path d="M343.9,244.9 q11.6,-4 23.1,0 t23.1,-2" fill="none" stroke="#7c9ad8" stroke-width="4.1" opacity="0.65" filter="url(#blur1)"/>
<path d="M212.0,271.6 q6.8,-4 13.6,0 t13.6,-2" fill="none" stroke="#d4e2fa" stroke-width="4.4" opacity="0.65" filter="url(#blur1)"/>
<path d="M233.1,273.7 q11.9,-4 23.8,0 t23.8,-2" fill="none" stroke="#86a2dc" stroke-width="2.4" opacity="0.65" filter="url(#blur1)"/>
<path d="M298.3,224.9 q10.6,-4 21.3,0 t21.3,-2" fill="none" stroke="#86a2dc" stroke-width="2.9" opacity="0.65" filter="url(#blur1)"/>
<path d="M283.9,232.8 q7.6,-4 15.3,0 t15.3,-2" fill="none" stroke="#93aee2" stroke-width="2.0" opacity="0.65" filter="url(#blur1)"/>
<path d="M504.3,239.2 q12.6,-4 25.3,0 t25.3,-2" fill="none" stroke="#7c9ad8" stroke-width="2.9" opacity="0.65" filter="url(#blur1)"/>
<path d="M491.2,234.1 q10.5,-4 21.1,0 t21.1,-2" fill="none" stroke="#7c9ad8" stroke-width="3.6" opacity="0.65" filter="url(#blur1)"/>
<path d="M317.5,242.4 q11.8,-4 23.7,0 t23.7,-2" fill="none" stroke="#86a2dc" stroke-width="3.1" opacity="0.65" filter="url(#blur1)"/>
<path d="M370.2,251.2 q9.0,-4 18.0,0 t18.0,-2" fill="none" stroke="#93aee2" stroke-width="2.7" opacity="0.65" filter="url(#blur1)"/>
<path d="M498.4,232.6 q8.8,-4 17.5,0 t17.5,-2" fill="none" stroke="#c8daf8" stroke-width="4.2" opacity="0.65" filter="url(#blur1)"/>
<path d="M352.5,266.0 q16.4,-4 32.7,0 t32.7,-2" fill="none" stroke="#86a2dc" stroke-width="2.3" opacity="0.65" filter="url(#blur1)"/>
<path d="M558.9,231.9 q14.5,-4 29.0,0 t29.0,-2" fill="none" stroke="#93aee2" stroke-width="4.0" opacity="0.65" filter="url(#blur1)"/>
<path d="M476.2,239.0 q12.6,-4 25.2,0 t25.2,-2" fill="none" stroke="#7c9ad8" stroke-width="4.0" opacity="0.65" filter="url(#blur1)"/>
<path d="M376.8,251.7 q8.9,-4 17.8,0 t17.8,-2" fill="none" stroke="#d4e2fa" stroke-width="2.1" opacity="0.65" filter="url(#blur1)"/>
<path d="M186.5,237.3 q16.2,-4 32.3,0 t32.3,-2" fill="none" stroke="#c8daf8" stroke-width="4.0" opacity="0.65" filter="url(#blur1)"/>
<path d="M500.9,219.0 q6.5,-4 13.1,0 t13.1,-2" fill="none" stroke="#7c9ad8" stroke-width="3.7" opacity="0.65" filter="url(#blur1)"/>
<path d="M574.1,238.2 q12.8,-4 25.5,0 t25.5,-2" fill="none" stroke="#7c9ad8" stroke-width="2.1" opacity="0.65" filter="url(#blur1)"/>
<path d="M395.2,252.6 q14.3,-4 28.6,0 t28.6,-2" fill="none" stroke="#7c9ad8" stroke-width="3.4" opacity="0.65" filter="url(#blur1)"/>
<path d="M366.4,219.6 q12.4,-4 24.9,0 t24.9,-2" fill="none" stroke="#93aee2" stroke-width="2.5" opacity="0.65" filter="url(#blur1)"/>
<path d="M540.6,200.7 q13.5,-4 27.0,0 t27.0,-2" fill="none" stroke="#d4e2fa" stroke-width="3.5" opacity="0.65" filter="url(#blur1)"/>
</g>
<g opacity="0.55"><circle cx="197.7" cy="252.9" r="5.6" fill="url(#tionG)"/></g>
<g opacity="0.55"><circle cx="265.4" cy="249.2" r="5.6" fill="url(#tionG)"/></g>
<g opacity="0.55"><circle cx="199.5" cy="274.8" r="5.6" fill="url(#tionG)"/></g>
<g opacity="0.55"><circle cx="252.6" cy="276.7" r="5.6" fill="url(#tionG)"/></g>
<g opacity="0.55"><circle cx="286.7" cy="274.8" r="5.6" fill="url(#tionG)"/></g>
<g opacity="0.55"><circle cx="199.5" cy="331.6" r="5.6" fill="url(#tionG)"/></g>
<g opacity="0.55"><circle cx="269.1" cy="338.9" r="5.6" fill="url(#tionG)"/></g>
<g opacity="0.55"><circle cx="216.7" cy="349.9" r="5.6" fill="url(#tionG)"/></g>
<g opacity="0.55"><circle cx="336.1" cy="359.0" r="5.6" fill="url(#tionG)"/></g>
<g opacity="0.55"><circle cx="208.7" cy="384.7" r="5.6" fill="url(#tionG)"/></g>
<g opacity="0.55"><circle cx="256.3" cy="432.2" r="5.6" fill="url(#tionG)"/></g>
<g opacity="0.55"><circle cx="310.5" cy="435.9" r="5.6" fill="url(#tionG)"/></g>
<g opacity="0.55"><circle cx="320.3" cy="446.9" r="5.6" fill="url(#tionG)"/></g>
<g opacity="0.55"><circle cx="280.1" cy="456.0" r="5.6" fill="url(#tionG)"/></g>
<g opacity="0.55"><circle cx="245.3" cy="462.6" r="5.6" fill="url(#tionG)"/></g>
<g opacity="0.55"><circle cx="281.9" cy="480.9" r="5.6" fill="url(#tionG)"/></g>
<g opacity="0.55"><circle cx="360.6" cy="468.8" r="5.6" fill="url(#tionG)"/></g>
<g opacity="0.55"><circle cx="483.2" cy="227.3" r="5.6" fill="url(#tionG)"/></g>
<g opacity="0.55"><circle cx="541.0" cy="250.3" r="5.6" fill="url(#tionG)"/></g>
<g opacity="0.55"><circle cx="488.7" cy="255.4" r="5.6" fill="url(#tionG)"/></g>
<g opacity="0.55"><circle cx="422.8" cy="262.0" r="5.6" fill="url(#tionG)"/></g>
<g opacity="0.55"><circle cx="463.8" cy="270.1" r="5.6" fill="url(#tionG)"/></g>
<g opacity="0.55"><circle cx="534.5" cy="267.5" r="5.6" fill="url(#tionG)"/></g>
<g opacity="0.55"><circle cx="572.9" cy="270.5" r="5.6" fill="url(#tionG)"/></g>
<g opacity="0.55"><circle cx="586.8" cy="327.2" r="5.6" fill="url(#tionG)"/></g>
<g opacity="0.55"><circle cx="484.3" cy="341.8" r="5.6" fill="url(#tionG)"/></g>
<g opacity="0.55"><circle cx="542.9" cy="356.5" r="5.6" fill="url(#tionG)"/></g>
<g opacity="0.55"><circle cx="572.9" cy="346.2" r="5.6" fill="url(#tionG)"/></g>
<g opacity="0.55"><circle cx="536.3" cy="381.0" r="5.6" fill="url(#tionG)"/></g>
<g opacity="0.55"><circle cx="500.4" cy="394.5" r="5.6" fill="url(#tionG)"/></g>
<g opacity="0.55"><circle cx="550.9" cy="399.3" r="5.6" fill="url(#tionG)"/></g>
<g opacity="0.55"><circle cx="499.0" cy="424.9" r="5.6" fill="url(#tionG)"/></g>
<g opacity="0.55"><circle cx="521.7" cy="421.3" r="5.6" fill="url(#tionG)"/></g>
<g opacity="0.55"><circle cx="568.1" cy="420.2" r="5.6" fill="url(#tionG)"/></g>
<polygon points="301.5,221.9 387.8,262.5 387.8,484.2 302.7,417.5" fill="url(#plateG)"/>
<polygon points="301.5,221.9 387.8,262.5 387.8,265.0 301.5,270.0" fill="#b4caee" opacity="0.92"/>
<polyline points="301.5,268.0 301.5,221.9 387.8,262.5" fill="none" stroke="#e2b848" stroke-width="2.4" opacity="0.9"/>
<polygon points="387.8,262.5 402.8,263.3 402.8,486.5 387.8,484.2" fill="url(#plateEdge)"/>
<polygon points="387.8,262.5 402.8,263.3 402.8,268.0 387.8,266.0" fill="#f6d070" opacity="0.6"/>
<polygon points="320.0,218.4 398.2,212.7 407.2,214.2 409.4,217.9 418.4,219.4 420.6,223.0 429.6,224.5 431.9,228.2 440.9,229.7 443.1,233.3 452.1,234.8 454.3,238.5 463.3,240.0 465.6,243.7 474.6,245.2 476.8,248.8 485.8,250.3 488.0,254.0 402.8,263.3" fill="#a9aeba"/>
<line x1="320.0" y1="218.4" x2="398.2" y2="212.7" stroke="#8a8f9c" stroke-width="1.6"/>
<line x1="320.0" y1="220.6" x2="398.2" y2="214.9" stroke="#c8ccd6" stroke-width="1.2"/>
<line x1="330.4" y1="224.0" x2="409.4" y2="217.9" stroke="#8a8f9c" stroke-width="1.6"/>
<line x1="330.4" y1="226.2" x2="409.4" y2="220.1" stroke="#c8ccd6" stroke-width="1.2"/>
<line x1="340.7" y1="229.6" x2="420.6" y2="223.0" stroke="#8a8f9c" stroke-width="1.6"/>
<line x1="340.7" y1="231.8" x2="420.6" y2="225.2" stroke="#c8ccd6" stroke-width="1.2"/>
<line x1="351.1" y1="235.2" x2="431.9" y2="228.2" stroke="#8a8f9c" stroke-width="1.6"/>
<line x1="351.1" y1="237.4" x2="431.9" y2="230.4" stroke="#c8ccd6" stroke-width="1.2"/>
<line x1="361.4" y1="240.9" x2="443.1" y2="233.3" stroke="#8a8f9c" stroke-width="1.6"/>
<line x1="361.4" y1="243.1" x2="443.1" y2="235.5" stroke="#c8ccd6" stroke-width="1.2"/>
<line x1="371.8" y1="246.5" x2="454.3" y2="238.5" stroke="#8a8f9c" stroke-width="1.6"/>
<line x1="371.8" y1="248.7" x2="454.3" y2="240.7" stroke="#c8ccd6" stroke-width="1.2"/>
<line x1="382.1" y1="252.1" x2="465.6" y2="243.7" stroke="#8a8f9c" stroke-width="1.6"/>
<line x1="382.1" y1="254.3" x2="465.6" y2="245.9" stroke="#c8ccd6" stroke-width="1.2"/>
<line x1="392.5" y1="257.7" x2="476.8" y2="248.8" stroke="#8a8f9c" stroke-width="1.6"/>
<line x1="392.5" y1="259.9" x2="476.8" y2="251.0" stroke="#c8ccd6" stroke-width="1.2"/>
<polygon points="402.8,263.3 488.0,254.0 492.0,262.0 486.0,467.0 402.8,486.5" fill="url(#stackFront)"/>
<line x1="402.8" y1="285.2" x2="490" y2="273.7" stroke="#c4c8d2" stroke-width="2.2"/>
<line x1="402.8" y1="288.2" x2="490" y2="276.7" stroke="#7c818d" stroke-width="1.4"/>
<line x1="402.8" y1="304.6" x2="490" y2="293.6" stroke="#c4c8d2" stroke-width="2.2"/>
<line x1="402.8" y1="307.6" x2="490" y2="296.6" stroke="#7c818d" stroke-width="1.4"/>
<line x1="402.8" y1="324.1" x2="490" y2="313.6" stroke="#c4c8d2" stroke-width="2.2"/>
<line x1="402.8" y1="327.1" x2="490" y2="316.6" stroke="#7c818d" stroke-width="1.4"/>
<line x1="402.8" y1="343.5" x2="490" y2="333.5" stroke="#c4c8d2" stroke-width="2.2"/>
<line x1="402.8" y1="346.5" x2="490" y2="336.5" stroke="#7c818d" stroke-width="1.4"/>
<line x1="402.8" y1="363.0" x2="490" y2="353.5" stroke="#c4c8d2" stroke-width="2.2"/>
<line x1="402.8" y1="366.0" x2="490" y2="356.5" stroke="#7c818d" stroke-width="1.4"/>
<line x1="402.8" y1="382.4" x2="490" y2="373.4" stroke="#c4c8d2" stroke-width="2.2"/>
<line x1="402.8" y1="385.4" x2="490" y2="376.4" stroke="#7c818d" stroke-width="1.4"/>
<line x1="402.8" y1="401.9" x2="490" y2="393.4" stroke="#c4c8d2" stroke-width="2.2"/>
<line x1="402.8" y1="404.9" x2="490" y2="396.4" stroke="#7c818d" stroke-width="1.4"/>
<line x1="402.8" y1="421.4" x2="490" y2="413.4" stroke="#c4c8d2" stroke-width="2.2"/>
<line x1="402.8" y1="424.4" x2="490" y2="416.4" stroke="#7c818d" stroke-width="1.4"/>
<line x1="402.8" y1="440.8" x2="490" y2="433.3" stroke="#c4c8d2" stroke-width="2.2"/>
<line x1="402.8" y1="443.8" x2="490" y2="436.3" stroke="#7c818d" stroke-width="1.4"/>
<line x1="402.8" y1="460.2" x2="490" y2="453.2" stroke="#c4c8d2" stroke-width="2.2"/>
<line x1="402.8" y1="463.2" x2="490" y2="456.2" stroke="#7c818d" stroke-width="1.4"/>
<path d="M488,256 Q494,262.0 488,268.0 L489,275.3 Q494,281.3 488,287.3 L489,294.6 Q494,300.6 488,306.6 L489,313.9 Q494,319.9 488,325.9 L489,333.2 Q494,339.2 488,345.2 L489,352.5 Q494,358.5 488,364.5 L489,371.8 Q494,377.8 488,383.8 L489,391.1 Q494,397.1 488,403.1 L489,410.4 Q494,416.4 488,422.4 L489,429.7 Q494,435.7 488,441.7 L489,449.0 Q494,455.0 488,461.0 L489,468.3" fill="none" stroke="#b3b7c2" stroke-width="2.5"/>
<g opacity="0.95"><circle cx="214.9" cy="287.7" r="5.6" fill="url(#tionG)"/></g>
<g opacity="0.95"><circle cx="303.9" cy="290.6" r="5.6" fill="url(#tionG)"/></g>
<g opacity="0.95"><circle cx="277.1" cy="301.2" r="5.6" fill="url(#tionG)"/></g>
<g opacity="0.95"><circle cx="308.6" cy="340.7" r="5.6" fill="url(#tionG)"/></g>
<g opacity="0.95"><circle cx="322.9" cy="341.8" r="5.6" fill="url(#tionG)"/></g>
<g opacity="0.95"><circle cx="289.2" cy="362.7" r="5.6" fill="url(#tionG)"/></g>
<g opacity="0.95"><circle cx="315.9" cy="371.8" r="5.6" fill="url(#tionG)"/></g>
<g opacity="0.95"><circle cx="272.8" cy="390.1" r="5.6" fill="url(#tionG)"/></g>
<g opacity="0.95"><circle cx="296.5" cy="401.1" r="5.6" fill="url(#tionG)"/></g>
<g opacity="0.95"><circle cx="327.7" cy="396.4" r="5.6" fill="url(#tionG)"/></g>
<g opacity="0.95"><circle cx="252.6" cy="411.4" r="5.6" fill="url(#tionG)"/></g>
<g opacity="0.95"><circle cx="220.4" cy="413.9" r="5.6" fill="url(#tionG)"/></g>
<g opacity="0.95"><circle cx="497.9" cy="224.3" r="5.6" fill="url(#tionG)"/></g>
<g opacity="0.95"><circle cx="496.0" cy="301.6" r="5.6" fill="url(#tionG)"/></g>
<g opacity="0.95"><circle cx="520.6" cy="293.1" r="5.6" fill="url(#tionG)"/></g>
<g opacity="0.95"><circle cx="502.6" cy="326.1" r="5.6" fill="url(#tionG)"/></g>
<g opacity="0.95"><circle cx="550.2" cy="322.4" r="5.6" fill="url(#tionG)"/></g>
<g opacity="0.95"><circle cx="510.0" cy="357.2" r="5.6" fill="url(#tionG)"/></g>
<g opacity="0.95"><circle cx="496.8" cy="361.6" r="5.6" fill="url(#tionG)"/></g>
<g opacity="0.95"><circle cx="542.9" cy="370.0" r="5.6" fill="url(#tionG)"/></g>
<polygon points="229.4,295.0 251.5,289.0 272.0,292.5 244.6,299.0" fill="#5a5a5a"/>
<polygon points="229.4,295.0 244.6,299.0 244.6,395.3 229.4,383.0" fill="url(#elecL)"/>
<polygon points="244.6,299.0 272.0,292.5 273.6,389.8 244.6,395.3" fill="url(#elecF)"/>
<polygon points="508.4,256.5 529.0,252.0 550.0,258.5 529.0,263.0" fill="#6a6a6a"/>
<polygon points="508.4,256.5 529.0,263.0 529.0,349.0 507.0,340.0" fill="url(#elecRF)"/>
<polygon points="529.0,263.0 550.0,258.5 547.0,347.0 529.0,349.0" fill="url(#elecRF2)"/>
<path d="M245,292 L245,158 Q245,146 256,144.6 L380.3,133.7" fill="none" stroke="#707070" stroke-width="4.6"/>
<path d="M245,292 L245,158 Q245,146 256,144.6 L380.3,133.7" fill="none" stroke="#c4c4c4" stroke-width="2.6"/>
<path d="M424.5,129.3 L527,121.5 Q536,121 536,131 L533.5,258" fill="none" stroke="#707070" stroke-width="4.6"/>
<path d="M424.5,129.3 L527,121.5 Q536,121 536,131 L533.5,258" fill="none" stroke="#c4c4c4" stroke-width="2.6"/>
<circle cx="402" cy="131.5" r="18.8" fill="none" stroke="#606060" stroke-width="6.4"/>
<circle cx="402" cy="131.5" r="18.8" fill="none" stroke="url(#ringG)" stroke-width="4.4"/>
<path d="M412.5,106.5 L390.5,140 L402.5,136 L394,159.5 L415,125 L403.5,129 L409,110 Z" fill="#f6a41e" stroke="#c87808" stroke-width="0.9"/>
<path d="M33.3,275.1 L56.8,266.9 Q64.4,264.3 66.2,272.1 L72.3,299.5 Q74.1,307.3 81.2,303.6 L111.0,288.4 Q118.1,284.7 118.5,292.7 L120.9,333.6 Q121.3,341.6 127.7,336.7 L165.3,307.9 Q171.7,303.0 171.2,311.0 L168.0,364.8 Q167.5,372.8 173.8,367.8 L222.3,329.5 Q228.6,324.5 227.1,332.4 L214.0,400.3 Q212.5,408.2 217.5,401.9 L244.7,367.4" fill="none" stroke="#ffff30" stroke-width="18" stroke-linejoin="round" stroke-linecap="round" filter="url(#blur3)"/>
<path d="M33.3,275.1 L56.8,266.9 Q64.4,264.3 66.2,272.1 L72.3,299.5 Q74.1,307.3 81.2,303.6 L111.0,288.4 Q118.1,284.7 118.5,292.7 L120.9,333.6 Q121.3,341.6 127.7,336.7 L165.3,307.9 Q171.7,303.0 171.2,311.0 L168.0,364.8 Q167.5,372.8 173.8,367.8 L222.3,329.5 Q228.6,324.5 227.1,332.4 L214.0,400.3 Q212.5,408.2 217.5,401.9 L244.7,367.4" fill="none" stroke="#ffff30" stroke-width="12.2" stroke-linejoin="round" stroke-linecap="round" filter="url(#blur1)" opacity="0.9"/>
<path d="M33.3,275.1 L56.8,266.9 Q64.4,264.3 66.2,272.1 L72.3,299.5 Q74.1,307.3 81.2,303.6 L111.0,288.4 Q118.1,284.7 118.5,292.7 L120.9,333.6 Q121.3,341.6 127.7,336.7 L165.3,307.9 Q171.7,303.0 171.2,311.0 L168.0,364.8 Q167.5,372.8 173.8,367.8 L222.3,329.5 Q228.6,324.5 227.1,332.4 L214.0,400.3 Q212.5,408.2 217.5,401.9 L244.7,367.4" fill="none" stroke="#e09a28" stroke-width="6.4" stroke-linejoin="round" stroke-linecap="round"/>
<path d="M33.3,275.1 L56.8,266.9 Q64.4,264.3 66.2,272.1 L72.3,299.5 Q74.1,307.3 81.2,303.6 L111.0,288.4 Q118.1,284.7 118.5,292.7 L120.9,333.6 Q121.3,341.6 127.7,336.7 L165.3,307.9 Q171.7,303.0 171.2,311.0 L168.0,364.8 Q167.5,372.8 173.8,367.8 L222.3,329.5 Q228.6,324.5 227.1,332.4 L214.0,400.3 Q212.5,408.2 217.5,401.9 L244.7,367.4" fill="none" stroke="#f8c830" stroke-width="4.5" stroke-linejoin="round" stroke-linecap="round" transform="translate(0.5 -0.5)"/>
<path d="M33.3,275.1 L56.8,266.9 Q64.4,264.3 66.2,272.1 L72.3,299.5 Q74.1,307.3 81.2,303.6 L111.0,288.4 Q118.1,284.7 118.5,292.7 L120.9,333.6 Q121.3,341.6 127.7,336.7 L165.3,307.9 Q171.7,303.0 171.2,311.0 L168.0,364.8 Q167.5,372.8 173.8,367.8 L222.3,329.5 Q228.6,324.5 227.1,332.4 L214.0,400.3 Q212.5,408.2 217.5,401.9 L244.7,367.4" fill="none" stroke="#fff8c0" stroke-width="1.6" stroke-linejoin="round" stroke-linecap="round" opacity="0.55" transform="translate(1 -1)"/>
<path d="M246.0,362.0 L240.0,375.0 L234.0,370.0Z" fill="#f8c830" stroke="#e09a28" stroke-width="0.8"/>
<path d="M21.5,350.2 L31.5,377.1 Q34.3,384.6 42.0,382.3 L66.4,375.1 Q74.1,372.8 75.2,380.7 L79.4,413.2 Q80.5,421.1 87.2,416.7 L116.7,397.6 Q123.4,393.2 123.4,401.2 L123.4,445.3 Q123.4,453.3 129.9,448.6 L171.7,418.3 Q178.2,413.6 177.3,421.5 L170.5,479.7 Q169.6,487.6 175.6,482.3 L223.7,439.3 Q229.7,434.0 227.6,441.7 L223.3,457.6" fill="none" stroke="#ff3a58" stroke-width="18" stroke-linejoin="round" stroke-linecap="round" filter="url(#blur3)"/>
<path d="M21.5,350.2 L31.5,377.1 Q34.3,384.6 42.0,382.3 L66.4,375.1 Q74.1,372.8 75.2,380.7 L79.4,413.2 Q80.5,421.1 87.2,416.7 L116.7,397.6 Q123.4,393.2 123.4,401.2 L123.4,445.3 Q123.4,453.3 129.9,448.6 L171.7,418.3 Q178.2,413.6 177.3,421.5 L170.5,479.7 Q169.6,487.6 175.6,482.3 L223.7,439.3 Q229.7,434.0 227.6,441.7 L223.3,457.6" fill="none" stroke="#ff3a58" stroke-width="12.2" stroke-linejoin="round" stroke-linecap="round" filter="url(#blur1)" opacity="0.9"/>
<path d="M21.5,350.2 L31.5,377.1 Q34.3,384.6 42.0,382.3 L66.4,375.1 Q74.1,372.8 75.2,380.7 L79.4,413.2 Q80.5,421.1 87.2,416.7 L116.7,397.6 Q123.4,393.2 123.4,401.2 L123.4,445.3 Q123.4,453.3 129.9,448.6 L171.7,418.3 Q178.2,413.6 177.3,421.5 L170.5,479.7 Q169.6,487.6 175.6,482.3 L223.7,439.3 Q229.7,434.0 227.6,441.7 L223.3,457.6" fill="none" stroke="#d82050" stroke-width="6.4" stroke-linejoin="round" stroke-linecap="round"/>
<path d="M21.5,350.2 L31.5,377.1 Q34.3,384.6 42.0,382.3 L66.4,375.1 Q74.1,372.8 75.2,380.7 L79.4,413.2 Q80.5,421.1 87.2,416.7 L116.7,397.6 Q123.4,393.2 123.4,401.2 L123.4,445.3 Q123.4,453.3 129.9,448.6 L171.7,418.3 Q178.2,413.6 177.3,421.5 L170.5,479.7 Q169.6,487.6 175.6,482.3 L223.7,439.3 Q229.7,434.0 227.6,441.7 L223.3,457.6" fill="none" stroke="#f4508a" stroke-width="4.5" stroke-linejoin="round" stroke-linecap="round" transform="translate(0.5 -0.5)"/>
<path d="M21.5,350.2 L31.5,377.1 Q34.3,384.6 42.0,382.3 L66.4,375.1 Q74.1,372.8 75.2,380.7 L79.4,413.2 Q80.5,421.1 87.2,416.7 L116.7,397.6 Q123.4,393.2 123.4,401.2 L123.4,445.3 Q123.4,453.3 129.9,448.6 L171.7,418.3 Q178.2,413.6 177.3,421.5 L170.5,479.7 Q169.6,487.6 175.6,482.3 L223.7,439.3 Q229.7,434.0 227.6,441.7 L223.3,457.6" fill="none" stroke="#ffe0ee" stroke-width="1.6" stroke-linejoin="round" stroke-linecap="round" opacity="0.55" transform="translate(1 -1)"/>
<path d="M226.0,448.0 L226.0,466.0 L216.0,460.0Z" fill="#f4508a" stroke="#d82050" stroke-width="0.8"/>
<rect x="853.6" y="109.5" width="9.8" height="145.90000000000003" fill="url(#goldBar)"/>
<rect x="863.4" y="114.9" width="101.7" height="18.8" fill="url(#bandG)"/>
<rect x="863.4" y="138.2" width="101.7" height="18.8" fill="url(#bandG)"/>
<rect x="863.4" y="161.6" width="101.7" height="18.8" fill="url(#bandG)"/>
<rect x="863.4" y="185.0" width="101.7" height="18.8" fill="url(#bandG)"/>
<rect x="863.4" y="208.3" width="101.7" height="18.8" fill="url(#bandG)"/>
<rect x="863.4" y="231.7" width="101.7" height="18.8" fill="url(#bandG)"/>
<rect x="863.4" y="110.3" width="103.1" height="4.6" rx="1.2" fill="url(#stripeG)"/>
<rect x="863.4" y="133.7" width="103.1" height="4.6" rx="1.2" fill="url(#stripeG)"/>
<rect x="863.4" y="157.0" width="103.1" height="4.6" rx="1.2" fill="url(#stripeG)"/>
<rect x="863.4" y="180.4" width="103.1" height="4.6" rx="1.2" fill="url(#stripeG)"/>
<rect x="863.4" y="203.7" width="103.1" height="4.6" rx="1.2" fill="url(#stripeG)"/>
<rect x="863.4" y="227.1" width="103.1" height="4.6" rx="1.2" fill="url(#stripeG)"/>
<rect x="863.4" y="250.4" width="103.1" height="4.6" rx="1.2" fill="url(#stripeG)"/>
<path d="M952.5,159.5 C986.5,160.5 1006.5,168.9 1032,169.9 L1032,158.0 L1060,179.5 L1032,201.0 L1032,189.1 C1006.5,190.1 986.5,198.5 952.5,199.5Z" fill="url(#arrG)"/>
<g opacity="1.0"><circle cx="798.1" cy="112.5" r="4.6" fill="url(#ionG)"/><circle cx="800.2" cy="110.9" r="1.0" fill="#fff" opacity="0.75"/></g>
<g opacity="1.0"><circle cx="833.4" cy="115.8" r="4.6" fill="url(#ionG)"/><circle cx="835.5" cy="114.2" r="1.0" fill="#fff" opacity="0.75"/></g>
<g opacity="1.0"><circle cx="772.1" cy="125.3" r="4.6" fill="url(#ionG)"/><circle cx="774.2" cy="123.7" r="1.0" fill="#fff" opacity="0.75"/></g>
<g opacity="1.0"><circle cx="798.1" cy="135.7" r="4.6" fill="url(#ionG)"/><circle cx="800.2" cy="134.1" r="1.0" fill="#fff" opacity="0.75"/></g>
<g opacity="1.0"><circle cx="828.0" cy="144.4" r="4.6" fill="url(#ionG)"/><circle cx="830.1" cy="142.8" r="1.0" fill="#fff" opacity="0.75"/></g>
<g opacity="1.0"><circle cx="840.8" cy="172.8" r="4.6" fill="url(#ionG)"/><circle cx="842.9" cy="171.2" r="1.0" fill="#fff" opacity="0.75"/></g>
<g opacity="1.0"><circle cx="753.4" cy="204.0" r="4.6" fill="url(#ionG)"/><circle cx="755.5" cy="202.4" r="1.0" fill="#fff" opacity="0.75"/></g>
<g opacity="1.0"><circle cx="804.0" cy="200.9" r="4.6" fill="url(#ionG)"/><circle cx="806.1" cy="199.3" r="1.0" fill="#fff" opacity="0.75"/></g>
<g opacity="1.0"><circle cx="840.8" cy="219.8" r="4.6" fill="url(#ionG)"/><circle cx="842.9" cy="218.2" r="1.0" fill="#fff" opacity="0.75"/></g>
<g opacity="1.0"><circle cx="775.2" cy="227.7" r="4.6" fill="url(#ionG)"/><circle cx="777.3" cy="226.1" r="1.0" fill="#fff" opacity="0.75"/></g>
<g opacity="1.0"><circle cx="798.7" cy="237.9" r="4.6" fill="url(#ionG)"/><circle cx="800.8" cy="236.3" r="1.0" fill="#fff" opacity="0.75"/></g>
<g opacity="1.0"><circle cx="820.4" cy="255.8" r="4.6" fill="url(#ionG)"/><circle cx="822.5" cy="254.2" r="1.0" fill="#fff" opacity="0.75"/></g>
<g opacity="1.0"><circle cx="982.1" cy="124.8" r="4.6" fill="url(#ionG)"/><circle cx="984.2" cy="123.2" r="1.0" fill="#fff" opacity="0.75"/></g>
<g opacity="1.0"><circle cx="1018.6" cy="123.0" r="4.6" fill="url(#ionG)"/><circle cx="1020.7" cy="121.4" r="1.0" fill="#fff" opacity="0.75"/></g>
<g opacity="1.0"><circle cx="982.1" cy="149.0" r="4.6" fill="url(#ionG)"/><circle cx="984.2" cy="147.4" r="1.0" fill="#fff" opacity="0.75"/></g>
<g opacity="1.0"><circle cx="1009.4" cy="150.3" r="4.6" fill="url(#ionG)"/><circle cx="1011.5" cy="148.7" r="1.0" fill="#fff" opacity="0.75"/></g>
<g opacity="1.0"><circle cx="1048.5" cy="152.3" r="4.6" fill="url(#ionG)"/><circle cx="1050.6" cy="150.7" r="1.0" fill="#fff" opacity="0.75"/></g>
<g opacity="1.0"><circle cx="1053.6" cy="209.1" r="4.6" fill="url(#ionG)"/><circle cx="1055.7" cy="207.5" r="1.0" fill="#fff" opacity="0.75"/></g>
<g opacity="1.0"><circle cx="981.3" cy="220.0" r="4.6" fill="url(#ionG)"/><circle cx="983.4" cy="218.4" r="1.0" fill="#fff" opacity="0.75"/></g>
<g opacity="1.0"><circle cx="1009.4" cy="217.5" r="4.6" fill="url(#ionG)"/><circle cx="1011.5" cy="215.9" r="1.0" fill="#fff" opacity="0.75"/></g>
<g opacity="1.0"><circle cx="1000.0" cy="245.3" r="4.6" fill="url(#ionG)"/><circle cx="1002.1" cy="243.7" r="1.0" fill="#fff" opacity="0.75"/></g>
<g opacity="1.0"><circle cx="1039.6" cy="242.8" r="4.6" fill="url(#ionG)"/><circle cx="1041.7" cy="241.2" r="1.0" fill="#fff" opacity="0.75"/></g>
<g opacity="1.0"><circle cx="901.6" cy="128.1" r="4.6" fill="url(#ionG)"/><circle cx="903.7" cy="126.5" r="1.0" fill="#fff" opacity="0.75"/></g>
<g opacity="1.0"><circle cx="942.5" cy="123.0" r="4.6" fill="url(#ionG)"/><circle cx="944.6" cy="121.4" r="1.0" fill="#fff" opacity="0.75"/></g>
<g opacity="1.0"><circle cx="877.9" cy="147.7" r="4.6" fill="url(#ionG)"/><circle cx="880.0" cy="146.1" r="1.0" fill="#fff" opacity="0.75"/></g>
<g opacity="1.0"><circle cx="941.2" cy="147.2" r="4.6" fill="url(#ionG)"/><circle cx="943.3" cy="145.6" r="1.0" fill="#fff" opacity="0.75"/></g>
<g opacity="1.0"><circle cx="898.3" cy="172.8" r="4.6" fill="url(#ionG)"/><circle cx="900.4" cy="171.2" r="1.0" fill="#fff" opacity="0.75"/></g>
<g opacity="1.0"><circle cx="934.8" cy="172.8" r="4.6" fill="url(#ionG)"/><circle cx="936.9" cy="171.2" r="1.0" fill="#fff" opacity="0.75"/></g>
<g opacity="1.0"><circle cx="894.0" cy="195.0" r="4.6" fill="url(#ionG)"/><circle cx="896.1" cy="193.4" r="1.0" fill="#fff" opacity="0.75"/></g>
<g opacity="1.0"><circle cx="894.5" cy="220.6" r="4.6" fill="url(#ionG)"/><circle cx="896.6" cy="219.0" r="1.0" fill="#fff" opacity="0.75"/></g>
<g opacity="1.0"><circle cx="933.6" cy="218.0" r="4.6" fill="url(#ionG)"/><circle cx="935.7" cy="216.4" r="1.0" fill="#fff" opacity="0.75"/></g>
<g opacity="1.0"><circle cx="906.0" cy="241.8" r="4.6" fill="url(#ionG)"/><circle cx="908.1" cy="240.2" r="1.0" fill="#fff" opacity="0.75"/></g>
<g opacity="1.0"><circle cx="937.4" cy="240.2" r="4.6" fill="url(#ionG)"/><circle cx="939.5" cy="238.6" r="1.0" fill="#fff" opacity="0.75"/></g>
<path d="M716.7,148.3 L739.1,132.6 Q743.2,129.7 743.4,134.7 L745.0,168.2 Q745.2,173.2 749.1,170.1 L778.6,147.3 Q782.5,144.2 782.1,149.2 L778.8,193.1 Q778.4,198.1 782.1,194.8 L819.2,162.0 Q822.9,158.7 822.0,163.6 L811.9,219.1 Q811.0,224.0 813.9,219.9 L834.3,191.8" fill="none" stroke="#ffff30" stroke-width="15" stroke-linejoin="round" stroke-linecap="round" filter="url(#blur5)"/>
<path d="M716.7,148.3 L739.1,132.6 Q743.2,129.7 743.4,134.7 L745.0,168.2 Q745.2,173.2 749.1,170.1 L778.6,147.3 Q782.5,144.2 782.1,149.2 L778.8,193.1 Q778.4,198.1 782.1,194.8 L819.2,162.0 Q822.9,158.7 822.0,163.6 L811.9,219.1 Q811.0,224.0 813.9,219.9 L834.3,191.8" fill="none" stroke="#ffff30" stroke-width="9.9" stroke-linejoin="round" stroke-linecap="round" filter="url(#blur1)" opacity="0.9"/>
<path d="M716.7,148.3 L739.1,132.6 Q743.2,129.7 743.4,134.7 L745.0,168.2 Q745.2,173.2 749.1,170.1 L778.6,147.3 Q782.5,144.2 782.1,149.2 L778.8,193.1 Q778.4,198.1 782.1,194.8 L819.2,162.0 Q822.9,158.7 822.0,163.6 L811.9,219.1 Q811.0,224.0 813.9,219.9 L834.3,191.8" fill="none" stroke="#e09a28" stroke-width="5.2" stroke-linejoin="round" stroke-linecap="round"/>
<path d="M716.7,148.3 L739.1,132.6 Q743.2,129.7 743.4,134.7 L745.0,168.2 Q745.2,173.2 749.1,170.1 L778.6,147.3 Q782.5,144.2 782.1,149.2 L778.8,193.1 Q778.4,198.1 782.1,194.8 L819.2,162.0 Q822.9,158.7 822.0,163.6 L811.9,219.1 Q811.0,224.0 813.9,219.9 L834.3,191.8" fill="none" stroke="#f8c830" stroke-width="3.6" stroke-linejoin="round" stroke-linecap="round" transform="translate(0.5 -0.5)"/>
<path d="M716.7,148.3 L739.1,132.6 Q743.2,129.7 743.4,134.7 L745.0,168.2 Q745.2,173.2 749.1,170.1 L778.6,147.3 Q782.5,144.2 782.1,149.2 L778.8,193.1 Q778.4,198.1 782.1,194.8 L819.2,162.0 Q822.9,158.7 822.0,163.6 L811.9,219.1 Q811.0,224.0 813.9,219.9 L834.3,191.8" fill="none" stroke="#fff8c0" stroke-width="1.3" stroke-linejoin="round" stroke-linecap="round" opacity="0.55" transform="translate(1 -1)"/>
<path d="M836.5,187.0 L832.0,200.0 L826.0,196.0Z" fill="#f8c830" stroke="#e09a28" stroke-width="0.8"/>
<rect x="858.2" y="408.7" width="9.8" height="145.90000000000003" fill="url(#goldBar)"/>
<rect x="868.0" y="414.1" width="101.2" height="18.8" fill="url(#bandG)"/>
<rect x="868.0" y="437.5" width="101.2" height="18.8" fill="url(#bandG)"/>
<rect x="868.0" y="460.8" width="101.2" height="18.8" fill="url(#bandG)"/>
<rect x="868.0" y="484.2" width="101.2" height="18.8" fill="url(#bandG)"/>
<rect x="868.0" y="507.5" width="101.2" height="18.8" fill="url(#bandG)"/>
<rect x="868.0" y="530.9" width="101.2" height="18.8" fill="url(#bandG)"/>
<rect x="868.0" y="409.5" width="102.6" height="4.6" rx="1.2" fill="url(#stripeG)"/>
<rect x="868.0" y="432.9" width="102.6" height="4.6" rx="1.2" fill="url(#stripeG)"/>
<rect x="868.0" y="456.2" width="102.6" height="4.6" rx="1.2" fill="url(#stripeG)"/>
<rect x="868.0" y="479.6" width="102.6" height="4.6" rx="1.2" fill="url(#stripeG)"/>
<rect x="868.0" y="502.9" width="102.6" height="4.6" rx="1.2" fill="url(#stripeG)"/>
<rect x="868.0" y="526.2" width="102.6" height="4.6" rx="1.2" fill="url(#stripeG)"/>
<rect x="868.0" y="549.6" width="102.6" height="4.6" rx="1.2" fill="url(#stripeG)"/>
<path d="M956.6,468.0 C990.6,469.0 1010.6,475.8 1037,476.8 L1037,469.40000000000003 L1064.6,482.6 L1037,495.8 L1037,488.40000000000003 C1010.6,489.40000000000003 990.6,496.20000000000005 956.6,497.20000000000005Z" fill="url(#arrG)"/>
<g opacity="1.0"><circle cx="788.7" cy="422.0" r="4.6" fill="url(#ionG)"/><circle cx="790.8" cy="420.4" r="1.0" fill="#fff" opacity="0.75"/></g>
<g opacity="1.0"><circle cx="838.3" cy="429.1" r="4.6" fill="url(#ionG)"/><circle cx="840.4" cy="427.5" r="1.0" fill="#fff" opacity="0.75"/></g>
<g opacity="1.0"><circle cx="814.2" cy="445.7" r="4.6" fill="url(#ionG)"/><circle cx="816.3" cy="444.1" r="1.0" fill="#fff" opacity="0.75"/></g>
<g opacity="1.0"><circle cx="845.4" cy="450.6" r="4.6" fill="url(#ionG)"/><circle cx="847.5" cy="449.0" r="1.0" fill="#fff" opacity="0.75"/></g>
<g opacity="1.0"><circle cx="805.8" cy="472.3" r="4.6" fill="url(#ionG)"/><circle cx="807.9" cy="470.7" r="1.0" fill="#fff" opacity="0.75"/></g>
<g opacity="1.0"><circle cx="771.3" cy="493.5" r="4.6" fill="url(#ionG)"/><circle cx="773.4" cy="491.9" r="1.0" fill="#fff" opacity="0.75"/></g>
<g opacity="1.0"><circle cx="827.5" cy="504.2" r="4.6" fill="url(#ionG)"/><circle cx="829.6" cy="502.6" r="1.0" fill="#fff" opacity="0.75"/></g>
<g opacity="1.0"><circle cx="846.2" cy="516.0" r="4.6" fill="url(#ionG)"/><circle cx="848.3" cy="514.4" r="1.0" fill="#fff" opacity="0.75"/></g>
<g opacity="1.0"><circle cx="804.0" cy="533.6" r="4.6" fill="url(#ionG)"/><circle cx="806.1" cy="532.0" r="1.0" fill="#fff" opacity="0.75"/></g>
<g opacity="1.0"><circle cx="771.3" cy="543.3" r="4.6" fill="url(#ionG)"/><circle cx="773.4" cy="541.7" r="1.0" fill="#fff" opacity="0.75"/></g>
<g opacity="1.0"><circle cx="814.2" cy="549.0" r="4.6" fill="url(#ionG)"/><circle cx="816.3" cy="547.4" r="1.0" fill="#fff" opacity="0.75"/></g>
<g opacity="1.0"><circle cx="848.0" cy="543.3" r="4.6" fill="url(#ionG)"/><circle cx="850.1" cy="541.7" r="1.0" fill="#fff" opacity="0.75"/></g>
<g opacity="1.0"><circle cx="986.4" cy="436.8" r="4.6" fill="url(#ionG)"/><circle cx="988.5" cy="435.2" r="1.0" fill="#fff" opacity="0.75"/></g>
<g opacity="1.0"><circle cx="994.1" cy="461.1" r="4.6" fill="url(#ionG)"/><circle cx="996.2" cy="459.5" r="1.0" fill="#fff" opacity="0.75"/></g>
<g opacity="1.0"><circle cx="1023.0" cy="507.6" r="4.6" fill="url(#ionG)"/><circle cx="1025.1" cy="506.0" r="1.0" fill="#fff" opacity="0.75"/></g>
<g opacity="1.0"><circle cx="1009.4" cy="538.2" r="4.6" fill="url(#ionG)"/><circle cx="1011.5" cy="536.6" r="1.0" fill="#fff" opacity="0.75"/></g>
<g opacity="1.0"><circle cx="945.0" cy="424.5" r="4.6" fill="url(#ionG)"/><circle cx="947.1" cy="422.9" r="1.0" fill="#fff" opacity="0.75"/></g>
<g opacity="1.0"><circle cx="917.0" cy="447.0" r="4.6" fill="url(#ionG)"/><circle cx="919.1" cy="445.4" r="1.0" fill="#fff" opacity="0.75"/></g>
<g opacity="1.0"><circle cx="889.6" cy="473.0" r="4.6" fill="url(#ionG)"/><circle cx="891.7" cy="471.4" r="1.0" fill="#fff" opacity="0.75"/></g>
<g opacity="1.0"><circle cx="929.0" cy="517.8" r="4.6" fill="url(#ionG)"/><circle cx="931.1" cy="516.2" r="1.0" fill="#fff" opacity="0.75"/></g>
<g opacity="1.0"><circle cx="942.0" cy="544.1" r="4.6" fill="url(#ionG)"/><circle cx="944.1" cy="542.5" r="1.0" fill="#fff" opacity="0.75"/></g>
<path d="M717.3,415.5 L720.9,415.5 Q724.5,415.5 724.6,419.1 L725.4,444.7 Q725.5,449.7 729.9,447.3 L756.9,433.0 Q761.3,430.6 760.8,435.6 L757.1,471.7 Q756.6,476.7 760.6,473.7 L794.6,448.6 Q798.6,445.6 797.7,450.5 L789.6,497.7 Q788.7,502.6 792.4,499.3 L835.9,460.6" fill="none" stroke="#ff3a58" stroke-width="15" stroke-linejoin="round" stroke-linecap="round" filter="url(#blur5)"/>
<path d="M717.3,415.5 L720.9,415.5 Q724.5,415.5 724.6,419.1 L725.4,444.7 Q725.5,449.7 729.9,447.3 L756.9,433.0 Q761.3,430.6 760.8,435.6 L757.1,471.7 Q756.6,476.7 760.6,473.7 L794.6,448.6 Q798.6,445.6 797.7,450.5 L789.6,497.7 Q788.7,502.6 792.4,499.3 L835.9,460.6" fill="none" stroke="#ff3a58" stroke-width="9.9" stroke-linejoin="round" stroke-linecap="round" filter="url(#blur1)" opacity="0.9"/>
<path d="M717.3,415.5 L720.9,415.5 Q724.5,415.5 724.6,419.1 L725.4,444.7 Q725.5,449.7 729.9,447.3 L756.9,433.0 Q761.3,430.6 760.8,435.6 L757.1,471.7 Q756.6,476.7 760.6,473.7 L794.6,448.6 Q798.6,445.6 797.7,450.5 L789.6,497.7 Q788.7,502.6 792.4,499.3 L835.9,460.6" fill="none" stroke="#d82050" stroke-width="5.2" stroke-linejoin="round" stroke-linecap="round"/>
<path d="M717.3,415.5 L720.9,415.5 Q724.5,415.5 724.6,419.1 L725.4,444.7 Q725.5,449.7 729.9,447.3 L756.9,433.0 Q761.3,430.6 760.8,435.6 L757.1,471.7 Q756.6,476.7 760.6,473.7 L794.6,448.6 Q798.6,445.6 797.7,450.5 L789.6,497.7 Q788.7,502.6 792.4,499.3 L835.9,460.6" fill="none" stroke="#f4508a" stroke-width="3.6" stroke-linejoin="round" stroke-linecap="round" transform="translate(0.5 -0.5)"/>
<path d="M717.3,415.5 L720.9,415.5 Q724.5,415.5 724.6,419.1 L725.4,444.7 Q725.5,449.7 729.9,447.3 L756.9,433.0 Q761.3,430.6 760.8,435.6 L757.1,471.7 Q756.6,476.7 760.6,473.7 L794.6,448.6 Q798.6,445.6 797.7,450.5 L789.6,497.7 Q788.7,502.6 792.4,499.3 L835.9,460.6" fill="none" stroke="#ffe0ee" stroke-width="1.3" stroke-linejoin="round" stroke-linecap="round" opacity="0.55" transform="translate(1 -1)"/>
<path d="M832.0,465.0 L838.0,481.0 L828.0,479.0Z" fill="#f4508a" stroke="#d82050" stroke-width="0.8"/>
<g opacity="1.0"><circle cx="794.9" cy="618.3" r="11.7" fill="url(#ionG)"/><circle cx="800.2" cy="614.2" r="2.6" fill="#fff" opacity="0.75"/></g>
<text x="821.7" y="627.6" font-size="31" font-family="Liberation Sans, sans-serif">Ions (KCl)</text>
<text x="744.5" y="64.7" font-size="38.5" font-family="Liberation Sans, sans-serif" fill="#231c1c">RCP</text>
<text x="744.5" y="374" font-size="38.5" font-family="Liberation Sans, sans-serif" fill="#231c1c">LCP</text>
<rect x="1130.4" y="56.5" width="254.0999999999999" height="214.8" fill="#f6f6f6"/>
<rect x="1130.4" y="41" width="87.29999999999995" height="15.5" fill="#585858"/>
<rect x="1217.7" y="41" width="83.29999999999995" height="15.5" fill="#fbf8b4"/>
<rect x="1301" y="41" width="83.5" height="15.5" fill="#585858"/>
<rect x="1130.4" y="56.5" width="254.0999999999999" height="214.8" fill="none" stroke="#444" stroke-width="1.8"/>
<line x1="1217.7" y1="56.5" x2="1217.7" y2="271.3" stroke="#111" stroke-width="1.6" stroke-dasharray="4.5 3"/>
<line x1="1301" y1="56.5" x2="1301" y2="271.3" stroke="#111" stroke-width="1.6" stroke-dasharray="4.5 3"/>
<text x="1174.1" y="55.9" font-size="18" font-family="Liberation Sans, sans-serif" fill="#fff" text-anchor="middle">OFF</text>
<text x="1261.3" y="55.9" font-size="18" font-family="Liberation Sans, sans-serif" fill="#111" text-anchor="middle">ON</text>
<text x="1345.8" y="55.9" font-size="18" font-family="Liberation Sans, sans-serif" fill="#fff" text-anchor="middle">OFF</text>
<text x="1150.4" y="85.2" font-size="20" font-family="Liberation Sans, sans-serif" fill="#111"><tspan font-style="italic" font-size="14.5">L</tspan><tspan dx="0.8">-Phe</tspan></text>
<path d="M1131,113.5 L1212.6,113.5 C1210,140 1214,165 1232,189 C1250,210 1275,224 1300,229 C1304,200 1304,170 1314,150 C1322,136 1332,130 1346,124.5 L1384,113.5" fill="none" stroke="#3358e0" stroke-width="4" stroke-linejoin="round"/>
<line x1="1144" y1="214.1" x2="1165.5" y2="214.1" stroke="#3358e0" stroke-width="3.2"/>
<text x="1169.5" y="220.1" font-size="17.5" font-family="Liberation Sans, sans-serif" fill="#111">RCP</text>
<text x="0" y="0" font-size="27.3" font-family="Liberation Sans, sans-serif" fill="#111" transform="translate(1107.6 219.2) rotate(-90)">Current (nA)</text>
<rect x="1134.8" y="397" width="250.20000000000005" height="213.89999999999998" fill="#f6f6f6"/>
<rect x="1134.8" y="380" width="86.0" height="17" fill="#585858"/>
<rect x="1220.8" y="380" width="81.70000000000005" height="17" fill="#fbf8b4"/>
<rect x="1302.5" y="380" width="82.5" height="17" fill="#585858"/>
<rect x="1134.8" y="397" width="250.20000000000005" height="213.89999999999998" fill="none" stroke="#444" stroke-width="1.8"/>
<line x1="1220.8" y1="397" x2="1220.8" y2="610.9" stroke="#111" stroke-width="1.6" stroke-dasharray="4.5 3"/>
<line x1="1302.5" y1="397" x2="1302.5" y2="610.9" stroke="#111" stroke-width="1.6" stroke-dasharray="4.5 3"/>
<text x="1177.8" y="396.4" font-size="18" font-family="Liberation Sans, sans-serif" fill="#fff" text-anchor="middle">OFF</text>
<text x="1263.7" y="396.4" font-size="18" font-family="Liberation Sans, sans-serif" fill="#111" text-anchor="middle">ON</text>
<text x="1346.8" y="396.4" font-size="18" font-family="Liberation Sans, sans-serif" fill="#fff" text-anchor="middle">OFF</text>
<text x="1150.4" y="427.9" font-size="20" font-family="Liberation Sans, sans-serif" fill="#111"><tspan font-style="italic" font-size="14.5">L</tspan><tspan dx="0.8">-Phe</tspan></text>
<path d="M1135,454 L1216,454 C1214,480 1222,495 1240,509 C1260,520 1282,523 1301,523.6 C1304,505 1308,488 1320,478 C1334,466 1350,463 1384,454" fill="none" stroke="#e82a5a" stroke-width="4" stroke-linejoin="round"/>
<line x1="1148.5" y1="554.1" x2="1170.0" y2="554.1" stroke="#e82a5a" stroke-width="3.2"/>
<text x="1174.0" y="560.1" font-size="17.5" font-family="Liberation Sans, sans-serif" fill="#111">LCP</text>
<text x="0" y="0" font-size="27.3" font-family="Liberation Sans, sans-serif" fill="#111" transform="translate(1107.6 567) rotate(-90)">Current (nA)</text>
</svg></body></html>
